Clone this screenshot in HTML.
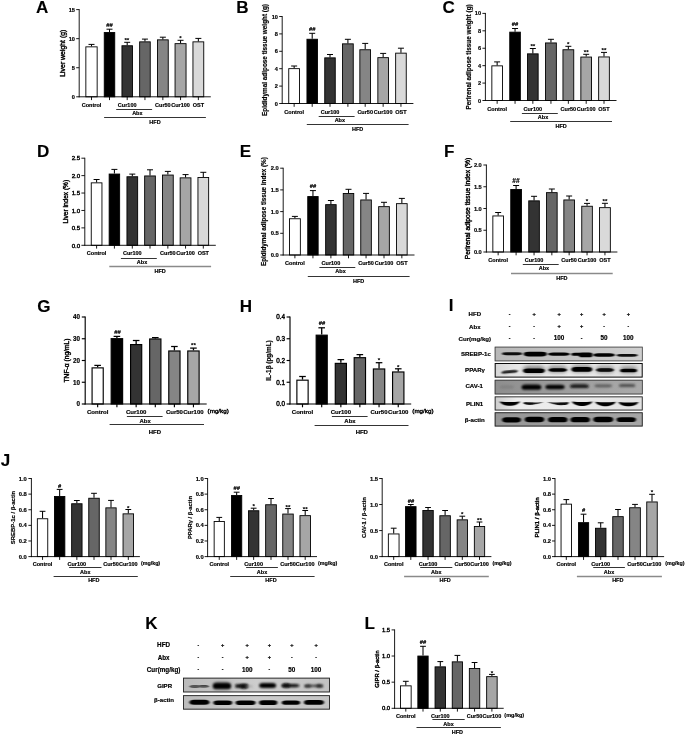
<!DOCTYPE html>
<html lang="en">
<head>
<meta charset="utf-8">
<title>Figure</title>
<style>
html,body{margin:0;padding:0;background:#fff;}
body{width:685px;height:735px;overflow:hidden;}
svg{display:block;}
svg text{font-family:"Liberation Sans",Arial,Helvetica,sans-serif;fill:#000;stroke:#000;stroke-width:0.18px;stroke-linejoin:round;}
</style>
</head>
<body>
<svg width="685" height="735" viewBox="0 0 685 735">
<rect width="685" height="735" fill="#fff"/>
<g>
<line x1="91.5" y1="46.4" x2="91.5" y2="44.4" stroke="#000" stroke-width="1.05"/>
<line x1="88.5" y1="44.4" x2="94.5" y2="44.4" stroke="#000" stroke-width="1"/>
<rect x="85.85" y="46.85" width="11.3" height="49.95" fill="#ffffff" stroke="#000" stroke-width="0.9"/>
<line x1="91.5" y1="96.8" x2="91.5" y2="100.1" stroke="#000" stroke-width="0.9"/>
<line x1="109.5" y1="32.1" x2="109.5" y2="29.2" stroke="#000" stroke-width="1.05"/>
<line x1="106.5" y1="29.2" x2="112.5" y2="29.2" stroke="#000" stroke-width="1"/>
<rect x="104.25" y="32.55" width="10.5" height="64.25" fill="#000000" stroke="#000" stroke-width="0.9"/>
<line x1="109.5" y1="96.8" x2="109.5" y2="100.1" stroke="#000" stroke-width="0.9"/>
<line x1="127.2" y1="45.3" x2="127.2" y2="42.3" stroke="#000" stroke-width="1.05"/>
<line x1="124.2" y1="42.3" x2="130.2" y2="42.3" stroke="#000" stroke-width="1"/>
<rect x="121.95" y="45.75" width="10.5" height="51.05" fill="#333333" stroke="#000" stroke-width="0.9"/>
<line x1="127.2" y1="96.8" x2="127.2" y2="100.1" stroke="#000" stroke-width="0.9"/>
<line x1="144.95" y1="41.4" x2="144.95" y2="39.1" stroke="#000" stroke-width="1.05"/>
<line x1="141.95" y1="39.1" x2="147.95" y2="39.1" stroke="#000" stroke-width="1"/>
<rect x="139.65" y="41.85" width="10.6" height="54.95" fill="#666666" stroke="#000" stroke-width="0.9"/>
<line x1="144.95" y1="96.8" x2="144.95" y2="100.1" stroke="#000" stroke-width="0.9"/>
<line x1="162.85" y1="39.4" x2="162.85" y2="37.2" stroke="#000" stroke-width="1.05"/>
<line x1="159.85" y1="37.2" x2="165.85" y2="37.2" stroke="#000" stroke-width="1"/>
<rect x="157.45" y="39.85" width="10.8" height="56.95" fill="#858585" stroke="#000" stroke-width="0.9"/>
<line x1="162.85" y1="96.8" x2="162.85" y2="100.1" stroke="#000" stroke-width="0.9"/>
<line x1="180.55" y1="43.2" x2="180.55" y2="40.3" stroke="#000" stroke-width="1.05"/>
<line x1="177.55" y1="40.3" x2="183.55" y2="40.3" stroke="#000" stroke-width="1"/>
<rect x="175.05" y="43.65" width="11" height="53.15" fill="#a6a6a6" stroke="#000" stroke-width="0.9"/>
<line x1="180.55" y1="96.8" x2="180.55" y2="100.1" stroke="#000" stroke-width="0.9"/>
<line x1="198.35" y1="41.4" x2="198.35" y2="38.4" stroke="#000" stroke-width="1.05"/>
<line x1="195.35" y1="38.4" x2="201.35" y2="38.4" stroke="#000" stroke-width="1"/>
<rect x="192.95" y="41.85" width="10.8" height="54.95" fill="#d9d9d9" stroke="#000" stroke-width="0.9"/>
<line x1="198.35" y1="96.8" x2="198.35" y2="100.1" stroke="#000" stroke-width="0.9"/>
<line x1="79.2" y1="9.15" x2="79.2" y2="97.25" stroke="#000" stroke-width="0.9"/>
<line x1="78.75" y1="96.8" x2="210.8" y2="96.8" stroke="#000" stroke-width="0.9"/>
<line x1="76.2" y1="9.6" x2="79.2" y2="9.6" stroke="#000" stroke-width="0.9"/>
<text x="74.9" y="11.62" font-size="5.6" font-weight="bold" text-anchor="end">15</text>
<line x1="76.2" y1="38.67" x2="79.2" y2="38.67" stroke="#000" stroke-width="0.9"/>
<text x="74.9" y="40.68" font-size="5.6" font-weight="bold" text-anchor="end">10</text>
<line x1="76.2" y1="67.73" x2="79.2" y2="67.73" stroke="#000" stroke-width="0.9"/>
<text x="74.9" y="69.75" font-size="5.6" font-weight="bold" text-anchor="end">5</text>
<line x1="76.2" y1="96.8" x2="79.2" y2="96.8" stroke="#000" stroke-width="0.9"/>
<text x="74.9" y="98.82" font-size="5.6" font-weight="bold" text-anchor="end">0</text>
<text transform="translate(64.57,53.2) rotate(-90)" font-size="6.9" font-weight="normal" text-anchor="middle" style="stroke-width:0.4px">Liver weight (g)</text>
<text x="109.5" y="27.43" font-size="5.8" font-weight="bold" text-anchor="middle">##</text>
<text x="126.8" y="42.42" font-size="6.2" font-weight="bold" text-anchor="middle">**</text>
<text x="180.5" y="40.12" font-size="6.2" font-weight="bold" text-anchor="middle">*</text>
<text x="91.5" y="107.1" font-size="5.5" font-weight="bold" text-anchor="middle">Control</text>
<text x="127.2" y="107.1" font-size="5.5" font-weight="bold" text-anchor="middle">Cur100</text>
<text x="162.85" y="107.1" font-size="5.5" font-weight="bold" text-anchor="middle">Cur50</text>
<text x="180.55" y="107.1" font-size="5.5" font-weight="bold" text-anchor="middle">Cur100</text>
<text x="198.35" y="107.1" font-size="5.5" font-weight="bold" text-anchor="middle">OST</text>
<line x1="116.2" y1="109.5" x2="152.1" y2="109.5" stroke="#000" stroke-width="0.8"/>
<text x="137.35" y="115.1" font-size="5.5" font-weight="bold" text-anchor="middle">Abx</text>
<line x1="104.1" y1="117.5" x2="205.9" y2="117.5" stroke="#000" stroke-width="0.8"/>
<text x="155" y="124.3" font-size="5.5" font-weight="bold" text-anchor="middle">HFD</text>
</g>
<g>
<line x1="294.15" y1="68.2" x2="294.15" y2="66" stroke="#000" stroke-width="1.05"/>
<line x1="291.15" y1="66" x2="297.15" y2="66" stroke="#000" stroke-width="1"/>
<rect x="288.75" y="68.65" width="10.8" height="34.85" fill="#ffffff" stroke="#000" stroke-width="0.9"/>
<line x1="294.15" y1="103.5" x2="294.15" y2="106.8" stroke="#000" stroke-width="0.9"/>
<line x1="312.2" y1="38.8" x2="312.2" y2="33.3" stroke="#000" stroke-width="1.05"/>
<line x1="309.2" y1="33.3" x2="315.2" y2="33.3" stroke="#000" stroke-width="1"/>
<rect x="306.95" y="39.25" width="10.5" height="64.25" fill="#000000" stroke="#000" stroke-width="0.9"/>
<line x1="312.2" y1="103.5" x2="312.2" y2="106.8" stroke="#000" stroke-width="0.9"/>
<line x1="330" y1="57.4" x2="330" y2="54.5" stroke="#000" stroke-width="1.05"/>
<line x1="327" y1="54.5" x2="333" y2="54.5" stroke="#000" stroke-width="1"/>
<rect x="324.75" y="57.85" width="10.5" height="45.65" fill="#333333" stroke="#000" stroke-width="0.9"/>
<line x1="330" y1="103.5" x2="330" y2="106.8" stroke="#000" stroke-width="0.9"/>
<line x1="347.9" y1="43.4" x2="347.9" y2="39.3" stroke="#000" stroke-width="1.05"/>
<line x1="344.9" y1="39.3" x2="350.9" y2="39.3" stroke="#000" stroke-width="1"/>
<rect x="342.55" y="43.85" width="10.7" height="59.65" fill="#666666" stroke="#000" stroke-width="0.9"/>
<line x1="347.9" y1="103.5" x2="347.9" y2="106.8" stroke="#000" stroke-width="0.9"/>
<line x1="365.2" y1="49.3" x2="365.2" y2="43.4" stroke="#000" stroke-width="1.05"/>
<line x1="362.2" y1="43.4" x2="368.2" y2="43.4" stroke="#000" stroke-width="1"/>
<rect x="359.85" y="49.75" width="10.7" height="53.75" fill="#858585" stroke="#000" stroke-width="0.9"/>
<line x1="365.2" y1="103.5" x2="365.2" y2="106.8" stroke="#000" stroke-width="0.9"/>
<line x1="383.15" y1="57.2" x2="383.15" y2="53.4" stroke="#000" stroke-width="1.05"/>
<line x1="380.15" y1="53.4" x2="386.15" y2="53.4" stroke="#000" stroke-width="1"/>
<rect x="377.85" y="57.65" width="10.6" height="45.85" fill="#a6a6a6" stroke="#000" stroke-width="0.9"/>
<line x1="383.15" y1="103.5" x2="383.15" y2="106.8" stroke="#000" stroke-width="0.9"/>
<line x1="400.95" y1="52.7" x2="400.95" y2="48.2" stroke="#000" stroke-width="1.05"/>
<line x1="397.95" y1="48.2" x2="403.95" y2="48.2" stroke="#000" stroke-width="1"/>
<rect x="395.65" y="53.15" width="10.6" height="50.35" fill="#d9d9d9" stroke="#000" stroke-width="0.9"/>
<line x1="400.95" y1="103.5" x2="400.95" y2="106.8" stroke="#000" stroke-width="0.9"/>
<line x1="282.2" y1="16.05" x2="282.2" y2="103.95" stroke="#000" stroke-width="0.9"/>
<line x1="281.75" y1="103.5" x2="413.4" y2="103.5" stroke="#000" stroke-width="0.9"/>
<line x1="279.2" y1="16.5" x2="282.2" y2="16.5" stroke="#000" stroke-width="0.9"/>
<text x="277.9" y="18.52" font-size="5.6" font-weight="bold" text-anchor="end">10</text>
<line x1="279.2" y1="33.9" x2="282.2" y2="33.9" stroke="#000" stroke-width="0.9"/>
<text x="277.9" y="35.92" font-size="5.6" font-weight="bold" text-anchor="end">8</text>
<line x1="279.2" y1="51.3" x2="282.2" y2="51.3" stroke="#000" stroke-width="0.9"/>
<text x="277.9" y="53.32" font-size="5.6" font-weight="bold" text-anchor="end">6</text>
<line x1="279.2" y1="68.7" x2="282.2" y2="68.7" stroke="#000" stroke-width="0.9"/>
<text x="277.9" y="70.72" font-size="5.6" font-weight="bold" text-anchor="end">4</text>
<line x1="279.2" y1="86.1" x2="282.2" y2="86.1" stroke="#000" stroke-width="0.9"/>
<text x="277.9" y="88.12" font-size="5.6" font-weight="bold" text-anchor="end">2</text>
<line x1="279.2" y1="103.5" x2="282.2" y2="103.5" stroke="#000" stroke-width="0.9"/>
<text x="277.9" y="105.52" font-size="5.6" font-weight="bold" text-anchor="end">0</text>
<text transform="translate(266.91,60) rotate(-90)" font-size="6.38" font-weight="bold" text-anchor="middle">Epididymal adipose tissue weight (g)</text>
<text x="312.2" y="30.73" font-size="5.8" font-weight="bold" text-anchor="middle">##</text>
<text x="294.15" y="113.8" font-size="5.5" font-weight="bold" text-anchor="middle">Control</text>
<text x="330" y="113.8" font-size="5.5" font-weight="bold" text-anchor="middle">Cur100</text>
<text x="365.2" y="113.8" font-size="5.5" font-weight="bold" text-anchor="middle">Cur50</text>
<text x="383.15" y="113.8" font-size="5.5" font-weight="bold" text-anchor="middle">Cur100</text>
<text x="400.95" y="113.8" font-size="5.5" font-weight="bold" text-anchor="middle">OST</text>
<line x1="318.7" y1="116.5" x2="354.6" y2="116.5" stroke="#000" stroke-width="0.8"/>
<text x="339.85" y="121.8" font-size="5.5" font-weight="bold" text-anchor="middle">Abx</text>
<line x1="306.8" y1="124.5" x2="408.6" y2="124.5" stroke="#000" stroke-width="0.8"/>
<text x="357.7" y="131" font-size="5.5" font-weight="bold" text-anchor="middle">HFD</text>
</g>
<g>
<line x1="497.15" y1="65.4" x2="497.15" y2="61.9" stroke="#000" stroke-width="1.05"/>
<line x1="494.15" y1="61.9" x2="500.15" y2="61.9" stroke="#000" stroke-width="1"/>
<rect x="491.85" y="65.85" width="10.6" height="34.65" fill="#ffffff" stroke="#000" stroke-width="0.9"/>
<line x1="497.15" y1="100.5" x2="497.15" y2="103.8" stroke="#000" stroke-width="0.9"/>
<line x1="515.05" y1="31.7" x2="515.05" y2="28.5" stroke="#000" stroke-width="1.05"/>
<line x1="512.05" y1="28.5" x2="518.05" y2="28.5" stroke="#000" stroke-width="1"/>
<rect x="509.75" y="32.15" width="10.6" height="68.35" fill="#000000" stroke="#000" stroke-width="0.9"/>
<line x1="515.05" y1="100.5" x2="515.05" y2="103.8" stroke="#000" stroke-width="0.9"/>
<line x1="532.85" y1="53.4" x2="532.85" y2="48.5" stroke="#000" stroke-width="1.05"/>
<line x1="529.85" y1="48.5" x2="535.85" y2="48.5" stroke="#000" stroke-width="1"/>
<rect x="527.55" y="53.85" width="10.6" height="46.65" fill="#333333" stroke="#000" stroke-width="0.9"/>
<line x1="532.85" y1="100.5" x2="532.85" y2="103.8" stroke="#000" stroke-width="0.9"/>
<line x1="550.95" y1="42.5" x2="550.95" y2="39.3" stroke="#000" stroke-width="1.05"/>
<line x1="547.95" y1="39.3" x2="553.95" y2="39.3" stroke="#000" stroke-width="1"/>
<rect x="545.55" y="42.95" width="10.8" height="57.55" fill="#666666" stroke="#000" stroke-width="0.9"/>
<line x1="550.95" y1="100.5" x2="550.95" y2="103.8" stroke="#000" stroke-width="0.9"/>
<line x1="568.35" y1="49.3" x2="568.35" y2="46.3" stroke="#000" stroke-width="1.05"/>
<line x1="565.35" y1="46.3" x2="571.35" y2="46.3" stroke="#000" stroke-width="1"/>
<rect x="562.95" y="49.75" width="10.8" height="50.75" fill="#858585" stroke="#000" stroke-width="0.9"/>
<line x1="568.35" y1="100.5" x2="568.35" y2="103.8" stroke="#000" stroke-width="0.9"/>
<line x1="586.2" y1="56.6" x2="586.2" y2="54.3" stroke="#000" stroke-width="1.05"/>
<line x1="583.2" y1="54.3" x2="589.2" y2="54.3" stroke="#000" stroke-width="1"/>
<rect x="580.85" y="57.05" width="10.7" height="43.45" fill="#a6a6a6" stroke="#000" stroke-width="0.9"/>
<line x1="586.2" y1="100.5" x2="586.2" y2="103.8" stroke="#000" stroke-width="0.9"/>
<line x1="604" y1="56.5" x2="604" y2="52.4" stroke="#000" stroke-width="1.05"/>
<line x1="601" y1="52.4" x2="607" y2="52.4" stroke="#000" stroke-width="1"/>
<rect x="598.65" y="56.95" width="10.7" height="43.55" fill="#d9d9d9" stroke="#000" stroke-width="0.9"/>
<line x1="604" y1="100.5" x2="604" y2="103.8" stroke="#000" stroke-width="0.9"/>
<line x1="485.4" y1="12.95" x2="485.4" y2="100.95" stroke="#000" stroke-width="0.9"/>
<line x1="484.95" y1="100.5" x2="616.5" y2="100.5" stroke="#000" stroke-width="0.9"/>
<line x1="482.4" y1="13.4" x2="485.4" y2="13.4" stroke="#000" stroke-width="0.9"/>
<text x="481.1" y="15.42" font-size="5.6" font-weight="bold" text-anchor="end">10</text>
<line x1="482.4" y1="30.82" x2="485.4" y2="30.82" stroke="#000" stroke-width="0.9"/>
<text x="481.1" y="32.84" font-size="5.6" font-weight="bold" text-anchor="end">8</text>
<line x1="482.4" y1="48.24" x2="485.4" y2="48.24" stroke="#000" stroke-width="0.9"/>
<text x="481.1" y="50.26" font-size="5.6" font-weight="bold" text-anchor="end">6</text>
<line x1="482.4" y1="65.66" x2="485.4" y2="65.66" stroke="#000" stroke-width="0.9"/>
<text x="481.1" y="67.68" font-size="5.6" font-weight="bold" text-anchor="end">4</text>
<line x1="482.4" y1="83.08" x2="485.4" y2="83.08" stroke="#000" stroke-width="0.9"/>
<text x="481.1" y="85.1" font-size="5.6" font-weight="bold" text-anchor="end">2</text>
<line x1="482.4" y1="100.5" x2="485.4" y2="100.5" stroke="#000" stroke-width="0.9"/>
<text x="481.1" y="102.52" font-size="5.6" font-weight="bold" text-anchor="end">0</text>
<text transform="translate(470.51,56.95) rotate(-90)" font-size="6.38" font-weight="bold" text-anchor="middle">Perirenal adipose tissue weight (g)</text>
<text x="515.1" y="25.73" font-size="5.8" font-weight="bold" text-anchor="middle">##</text>
<text x="532.8" y="48.32" font-size="6.2" font-weight="bold" text-anchor="middle">**</text>
<text x="568.3" y="45.52" font-size="6.2" font-weight="bold" text-anchor="middle">*</text>
<text x="586.2" y="54.12" font-size="6.2" font-weight="bold" text-anchor="middle">**</text>
<text x="604" y="52.42" font-size="6.2" font-weight="bold" text-anchor="middle">**</text>
<text x="497.15" y="110.8" font-size="5.5" font-weight="bold" text-anchor="middle">Control</text>
<text x="532.85" y="110.8" font-size="5.5" font-weight="bold" text-anchor="middle">Cur100</text>
<text x="568.35" y="110.8" font-size="5.5" font-weight="bold" text-anchor="middle">Cur50</text>
<text x="586.2" y="110.8" font-size="5.5" font-weight="bold" text-anchor="middle">Cur100</text>
<text x="604" y="110.8" font-size="5.5" font-weight="bold" text-anchor="middle">OST</text>
<line x1="521.9" y1="113.5" x2="557.8" y2="113.5" stroke="#000" stroke-width="0.8"/>
<text x="543.05" y="118.8" font-size="5.5" font-weight="bold" text-anchor="middle">Abx</text>
<line x1="510.2" y1="121.5" x2="612" y2="121.5" stroke="#000" stroke-width="0.8"/>
<text x="561.1" y="128" font-size="5.5" font-weight="bold" text-anchor="middle">HFD</text>
</g>
<g>
<line x1="96.6" y1="182.4" x2="96.6" y2="179.5" stroke="#000" stroke-width="1.05"/>
<line x1="93.6" y1="179.5" x2="99.6" y2="179.5" stroke="#000" stroke-width="1"/>
<rect x="91.25" y="182.85" width="10.7" height="62.45" fill="#ffffff" stroke="#000" stroke-width="0.9"/>
<line x1="96.6" y1="245.3" x2="96.6" y2="248.6" stroke="#000" stroke-width="0.9"/>
<line x1="114.4" y1="173.6" x2="114.4" y2="169.4" stroke="#000" stroke-width="1.05"/>
<line x1="111.4" y1="169.4" x2="117.4" y2="169.4" stroke="#000" stroke-width="1"/>
<rect x="109.15" y="174.05" width="10.5" height="71.25" fill="#000000" stroke="#000" stroke-width="0.9"/>
<line x1="114.4" y1="245.3" x2="114.4" y2="248.6" stroke="#000" stroke-width="0.9"/>
<line x1="132.3" y1="176.3" x2="132.3" y2="174.1" stroke="#000" stroke-width="1.05"/>
<line x1="129.3" y1="174.1" x2="135.3" y2="174.1" stroke="#000" stroke-width="1"/>
<rect x="126.95" y="176.75" width="10.7" height="68.55" fill="#333333" stroke="#000" stroke-width="0.9"/>
<line x1="132.3" y1="245.3" x2="132.3" y2="248.6" stroke="#000" stroke-width="0.9"/>
<line x1="150" y1="175.5" x2="150" y2="169.8" stroke="#000" stroke-width="1.05"/>
<line x1="147" y1="169.8" x2="153" y2="169.8" stroke="#000" stroke-width="1"/>
<rect x="144.65" y="175.95" width="10.7" height="69.35" fill="#666666" stroke="#000" stroke-width="0.9"/>
<line x1="150" y1="245.3" x2="150" y2="248.6" stroke="#000" stroke-width="0.9"/>
<line x1="167.85" y1="174.6" x2="167.85" y2="171.4" stroke="#000" stroke-width="1.05"/>
<line x1="164.85" y1="171.4" x2="170.85" y2="171.4" stroke="#000" stroke-width="1"/>
<rect x="162.45" y="175.05" width="10.8" height="70.25" fill="#858585" stroke="#000" stroke-width="0.9"/>
<line x1="167.85" y1="245.3" x2="167.85" y2="248.6" stroke="#000" stroke-width="0.9"/>
<line x1="185.55" y1="177.4" x2="185.55" y2="174.6" stroke="#000" stroke-width="1.05"/>
<line x1="182.55" y1="174.6" x2="188.55" y2="174.6" stroke="#000" stroke-width="1"/>
<rect x="180.15" y="177.85" width="10.8" height="67.45" fill="#a6a6a6" stroke="#000" stroke-width="0.9"/>
<line x1="185.55" y1="245.3" x2="185.55" y2="248.6" stroke="#000" stroke-width="0.9"/>
<line x1="203.3" y1="177" x2="203.3" y2="172.3" stroke="#000" stroke-width="1.05"/>
<line x1="200.3" y1="172.3" x2="206.3" y2="172.3" stroke="#000" stroke-width="1"/>
<rect x="197.95" y="177.45" width="10.7" height="67.85" fill="#d9d9d9" stroke="#000" stroke-width="0.9"/>
<line x1="203.3" y1="245.3" x2="203.3" y2="248.6" stroke="#000" stroke-width="0.9"/>
<line x1="84.8" y1="157.75" x2="84.8" y2="245.75" stroke="#000" stroke-width="0.9"/>
<line x1="84.35" y1="245.3" x2="215.8" y2="245.3" stroke="#000" stroke-width="0.9"/>
<line x1="81.4" y1="158.2" x2="84.8" y2="158.2" stroke="#000" stroke-width="0.9"/>
<text x="80.2" y="160.4" font-size="6.1" font-weight="normal" text-anchor="end" style="stroke-width:0.4px">2.5</text>
<line x1="81.4" y1="175.62" x2="84.8" y2="175.62" stroke="#000" stroke-width="0.9"/>
<text x="80.2" y="177.82" font-size="6.1" font-weight="normal" text-anchor="end" style="stroke-width:0.4px">2.0</text>
<line x1="81.4" y1="193.04" x2="84.8" y2="193.04" stroke="#000" stroke-width="0.9"/>
<text x="80.2" y="195.24" font-size="6.1" font-weight="normal" text-anchor="end" style="stroke-width:0.4px">1.5</text>
<line x1="81.4" y1="210.46" x2="84.8" y2="210.46" stroke="#000" stroke-width="0.9"/>
<text x="80.2" y="212.66" font-size="6.1" font-weight="normal" text-anchor="end" style="stroke-width:0.4px">1.0</text>
<line x1="81.4" y1="227.88" x2="84.8" y2="227.88" stroke="#000" stroke-width="0.9"/>
<text x="80.2" y="230.08" font-size="6.1" font-weight="normal" text-anchor="end" style="stroke-width:0.4px">0.5</text>
<line x1="81.4" y1="245.3" x2="84.8" y2="245.3" stroke="#000" stroke-width="0.9"/>
<text x="80.2" y="247.5" font-size="6.1" font-weight="normal" text-anchor="end" style="stroke-width:0.4px">0.0</text>
<text transform="translate(67.97,201.75) rotate(-90)" font-size="6.55" font-weight="normal" text-anchor="middle" style="stroke-width:0.4px">Liver index (%)</text>
<text x="96.6" y="255.2" font-size="5.5" font-weight="bold" text-anchor="middle">Control</text>
<text x="132.3" y="255.2" font-size="5.5" font-weight="bold" text-anchor="middle">Cur100</text>
<text x="167.85" y="255.2" font-size="5.5" font-weight="bold" text-anchor="middle">Cur50</text>
<text x="185.55" y="255.2" font-size="5.5" font-weight="bold" text-anchor="middle">Cur100</text>
<text x="203.3" y="255.2" font-size="5.5" font-weight="bold" text-anchor="middle">OST</text>
<line x1="120.9" y1="258.5" x2="156.8" y2="258.5" stroke="#000" stroke-width="0.8"/>
<text x="142.05" y="263.6" font-size="5.5" font-weight="bold" text-anchor="middle">Abx</text>
<line x1="109.3" y1="266.5" x2="211.1" y2="266.5" stroke="#8a8a8a" stroke-width="1.5"/>
<text x="160.2" y="272.8" font-size="5.5" font-weight="bold" text-anchor="middle">HFD</text>
</g>
<g>
<line x1="294.9" y1="218.3" x2="294.9" y2="216.4" stroke="#000" stroke-width="1.05"/>
<line x1="291.9" y1="216.4" x2="297.9" y2="216.4" stroke="#000" stroke-width="1"/>
<rect x="289.45" y="218.75" width="10.9" height="36.25" fill="#ffffff" stroke="#000" stroke-width="0.9"/>
<line x1="294.9" y1="255" x2="294.9" y2="258.3" stroke="#000" stroke-width="0.9"/>
<line x1="312.95" y1="196.1" x2="312.95" y2="190.6" stroke="#000" stroke-width="1.05"/>
<line x1="309.95" y1="190.6" x2="315.95" y2="190.6" stroke="#000" stroke-width="1"/>
<rect x="307.75" y="196.55" width="10.4" height="58.45" fill="#000000" stroke="#000" stroke-width="0.9"/>
<line x1="312.95" y1="255" x2="312.95" y2="258.3" stroke="#000" stroke-width="0.9"/>
<line x1="330.9" y1="204.2" x2="330.9" y2="200.5" stroke="#000" stroke-width="1.05"/>
<line x1="327.9" y1="200.5" x2="333.9" y2="200.5" stroke="#000" stroke-width="1"/>
<rect x="325.65" y="204.65" width="10.5" height="50.35" fill="#333333" stroke="#000" stroke-width="0.9"/>
<line x1="330.9" y1="255" x2="330.9" y2="258.3" stroke="#000" stroke-width="0.9"/>
<line x1="348.5" y1="193" x2="348.5" y2="189.3" stroke="#000" stroke-width="1.05"/>
<line x1="345.5" y1="189.3" x2="351.5" y2="189.3" stroke="#000" stroke-width="1"/>
<rect x="343.25" y="193.45" width="10.5" height="61.55" fill="#666666" stroke="#000" stroke-width="0.9"/>
<line x1="348.5" y1="255" x2="348.5" y2="258.3" stroke="#000" stroke-width="0.9"/>
<line x1="366.05" y1="199.5" x2="366.05" y2="193.4" stroke="#000" stroke-width="1.05"/>
<line x1="363.05" y1="193.4" x2="369.05" y2="193.4" stroke="#000" stroke-width="1"/>
<rect x="360.75" y="199.95" width="10.6" height="55.05" fill="#858585" stroke="#000" stroke-width="0.9"/>
<line x1="366.05" y1="255" x2="366.05" y2="258.3" stroke="#000" stroke-width="0.9"/>
<line x1="384" y1="206.2" x2="384" y2="202.3" stroke="#000" stroke-width="1.05"/>
<line x1="381" y1="202.3" x2="387" y2="202.3" stroke="#000" stroke-width="1"/>
<rect x="378.65" y="206.65" width="10.7" height="48.35" fill="#a6a6a6" stroke="#000" stroke-width="0.9"/>
<line x1="384" y1="255" x2="384" y2="258.3" stroke="#000" stroke-width="0.9"/>
<line x1="401.85" y1="203.2" x2="401.85" y2="198.4" stroke="#000" stroke-width="1.05"/>
<line x1="398.85" y1="198.4" x2="404.85" y2="198.4" stroke="#000" stroke-width="1"/>
<rect x="396.55" y="203.65" width="10.6" height="51.35" fill="#d9d9d9" stroke="#000" stroke-width="0.9"/>
<line x1="401.85" y1="255" x2="401.85" y2="258.3" stroke="#000" stroke-width="0.9"/>
<line x1="283.2" y1="167.75" x2="283.2" y2="255.45" stroke="#000" stroke-width="0.9"/>
<line x1="282.75" y1="255" x2="414.5" y2="255" stroke="#000" stroke-width="0.9"/>
<line x1="280.2" y1="168.2" x2="283.2" y2="168.2" stroke="#000" stroke-width="0.9"/>
<text x="278.8" y="170.29" font-size="5.8" font-weight="bold" text-anchor="end">2.0</text>
<line x1="280.2" y1="189.9" x2="283.2" y2="189.9" stroke="#000" stroke-width="0.9"/>
<text x="278.8" y="191.99" font-size="5.8" font-weight="bold" text-anchor="end">1.5</text>
<line x1="280.2" y1="211.6" x2="283.2" y2="211.6" stroke="#000" stroke-width="0.9"/>
<text x="278.8" y="213.69" font-size="5.8" font-weight="bold" text-anchor="end">1.0</text>
<line x1="280.2" y1="233.3" x2="283.2" y2="233.3" stroke="#000" stroke-width="0.9"/>
<text x="278.8" y="235.39" font-size="5.8" font-weight="bold" text-anchor="end">0.5</text>
<line x1="280.2" y1="255" x2="283.2" y2="255" stroke="#000" stroke-width="0.9"/>
<text x="278.8" y="257.09" font-size="5.8" font-weight="bold" text-anchor="end">0.0</text>
<text transform="translate(266.19,211.6) rotate(-90)" font-size="6.3" font-weight="bold" text-anchor="middle">Epididymal adipose tissue index (%)</text>
<text x="313.1" y="188.33" font-size="5.8" font-weight="bold" text-anchor="middle">##</text>
<text x="294.9" y="265.3" font-size="5.5" font-weight="bold" text-anchor="middle">Control</text>
<text x="330.9" y="265.3" font-size="5.5" font-weight="bold" text-anchor="middle">Cur100</text>
<text x="366.05" y="265.3" font-size="5.5" font-weight="bold" text-anchor="middle">Cur50</text>
<text x="384" y="265.3" font-size="5.5" font-weight="bold" text-anchor="middle">Cur100</text>
<text x="401.85" y="265.3" font-size="5.5" font-weight="bold" text-anchor="middle">OST</text>
<line x1="319.4" y1="267.5" x2="355.3" y2="267.5" stroke="#000" stroke-width="0.8"/>
<text x="340.55" y="273.3" font-size="5.5" font-weight="bold" text-anchor="middle">Abx</text>
<line x1="307.8" y1="276.5" x2="409.6" y2="276.5" stroke="#000" stroke-width="0.8"/>
<text x="358.7" y="282.5" font-size="5.5" font-weight="bold" text-anchor="middle">HFD</text>
</g>
<g>
<line x1="498.15" y1="215.5" x2="498.15" y2="212.5" stroke="#000" stroke-width="1.05"/>
<line x1="495.15" y1="212.5" x2="501.15" y2="212.5" stroke="#000" stroke-width="1"/>
<rect x="492.85" y="215.95" width="10.6" height="36.05" fill="#ffffff" stroke="#000" stroke-width="0.9"/>
<line x1="498.15" y1="252" x2="498.15" y2="255.3" stroke="#000" stroke-width="0.9"/>
<line x1="516.1" y1="189" x2="516.1" y2="185.5" stroke="#000" stroke-width="1.05"/>
<line x1="513.1" y1="185.5" x2="519.1" y2="185.5" stroke="#000" stroke-width="1"/>
<rect x="510.75" y="189.45" width="10.7" height="62.55" fill="#000000" stroke="#000" stroke-width="0.9"/>
<line x1="516.1" y1="252" x2="516.1" y2="255.3" stroke="#000" stroke-width="0.9"/>
<line x1="534.05" y1="200.4" x2="534.05" y2="196.3" stroke="#000" stroke-width="1.05"/>
<line x1="531.05" y1="196.3" x2="537.05" y2="196.3" stroke="#000" stroke-width="1"/>
<rect x="528.75" y="200.85" width="10.6" height="51.15" fill="#333333" stroke="#000" stroke-width="0.9"/>
<line x1="534.05" y1="252" x2="534.05" y2="255.3" stroke="#000" stroke-width="0.9"/>
<line x1="551.85" y1="192.2" x2="551.85" y2="189" stroke="#000" stroke-width="1.05"/>
<line x1="548.85" y1="189" x2="554.85" y2="189" stroke="#000" stroke-width="1"/>
<rect x="546.55" y="192.65" width="10.6" height="59.35" fill="#666666" stroke="#000" stroke-width="0.9"/>
<line x1="551.85" y1="252" x2="551.85" y2="255.3" stroke="#000" stroke-width="0.9"/>
<line x1="569.15" y1="199.5" x2="569.15" y2="196" stroke="#000" stroke-width="1.05"/>
<line x1="566.15" y1="196" x2="572.15" y2="196" stroke="#000" stroke-width="1"/>
<rect x="563.85" y="199.95" width="10.6" height="52.05" fill="#858585" stroke="#000" stroke-width="0.9"/>
<line x1="569.15" y1="252" x2="569.15" y2="255.3" stroke="#000" stroke-width="0.9"/>
<line x1="587.05" y1="205.8" x2="587.05" y2="203.4" stroke="#000" stroke-width="1.05"/>
<line x1="584.05" y1="203.4" x2="590.05" y2="203.4" stroke="#000" stroke-width="1"/>
<rect x="581.75" y="206.25" width="10.6" height="45.75" fill="#a6a6a6" stroke="#000" stroke-width="0.9"/>
<line x1="587.05" y1="252" x2="587.05" y2="255.3" stroke="#000" stroke-width="0.9"/>
<line x1="604.95" y1="207.2" x2="604.95" y2="203.3" stroke="#000" stroke-width="1.05"/>
<line x1="601.95" y1="203.3" x2="607.95" y2="203.3" stroke="#000" stroke-width="1"/>
<rect x="599.55" y="207.65" width="10.8" height="44.35" fill="#d9d9d9" stroke="#000" stroke-width="0.9"/>
<line x1="604.95" y1="252" x2="604.95" y2="255.3" stroke="#000" stroke-width="0.9"/>
<line x1="486.4" y1="164.55" x2="486.4" y2="252.45" stroke="#000" stroke-width="0.9"/>
<line x1="485.95" y1="252" x2="617.4" y2="252" stroke="#000" stroke-width="0.9"/>
<line x1="483.4" y1="165" x2="486.4" y2="165" stroke="#000" stroke-width="0.9"/>
<text x="481.8" y="167.05" font-size="5.7" font-weight="bold" text-anchor="end">2.0</text>
<line x1="483.4" y1="186.75" x2="486.4" y2="186.75" stroke="#000" stroke-width="0.9"/>
<text x="481.8" y="188.8" font-size="5.7" font-weight="bold" text-anchor="end">1.5</text>
<line x1="483.4" y1="208.5" x2="486.4" y2="208.5" stroke="#000" stroke-width="0.9"/>
<text x="481.8" y="210.55" font-size="5.7" font-weight="bold" text-anchor="end">1.0</text>
<line x1="483.4" y1="230.25" x2="486.4" y2="230.25" stroke="#000" stroke-width="0.9"/>
<text x="481.8" y="232.3" font-size="5.7" font-weight="bold" text-anchor="end">0.5</text>
<line x1="483.4" y1="252" x2="486.4" y2="252" stroke="#000" stroke-width="0.9"/>
<text x="481.8" y="254.05" font-size="5.7" font-weight="bold" text-anchor="end">0.0</text>
<text transform="translate(469.91,208.5) rotate(-90)" font-size="6.7" font-weight="normal" text-anchor="middle" style="stroke-width:0.4px">Perirenal adipose tissue index (%)</text>
<text x="516" y="183.11" font-size="6.6" font-weight="bold" text-anchor="middle">##</text>
<text x="587" y="203.12" font-size="6.2" font-weight="bold" text-anchor="middle">*</text>
<text x="605" y="203.02" font-size="6.2" font-weight="bold" text-anchor="middle">**</text>
<text x="498.15" y="262.3" font-size="5.5" font-weight="bold" text-anchor="middle">Control</text>
<text x="534.05" y="262.3" font-size="5.5" font-weight="bold" text-anchor="middle">Cur100</text>
<text x="569.15" y="262.3" font-size="5.5" font-weight="bold" text-anchor="middle">Cur50</text>
<text x="587.05" y="262.3" font-size="5.5" font-weight="bold" text-anchor="middle">Cur100</text>
<text x="604.95" y="262.3" font-size="5.5" font-weight="bold" text-anchor="middle">OST</text>
<line x1="522.8" y1="264.5" x2="558.7" y2="264.5" stroke="#000" stroke-width="0.8"/>
<text x="543.95" y="270.3" font-size="5.5" font-weight="bold" text-anchor="middle">Abx</text>
<line x1="511" y1="273.5" x2="612.7" y2="273.5" stroke="#8a8a8a" stroke-width="1.5"/>
<text x="561.85" y="279.5" font-size="5.5" font-weight="bold" text-anchor="middle">HFD</text>
</g>
<g>
<line x1="97.65" y1="367.3" x2="97.65" y2="365.4" stroke="#000" stroke-width="1.3"/>
<line x1="94.35" y1="365.4" x2="100.95" y2="365.4" stroke="#000" stroke-width="1.25"/>
<rect x="92.08" y="367.88" width="11.15" height="36.12" fill="#ffffff" stroke="#000" stroke-width="1.15"/>
<line x1="97.65" y1="404" x2="97.65" y2="407.3" stroke="#000" stroke-width="1.15"/>
<line x1="116.9" y1="338.1" x2="116.9" y2="336.4" stroke="#000" stroke-width="1.3"/>
<line x1="113.6" y1="336.4" x2="120.2" y2="336.4" stroke="#000" stroke-width="1.25"/>
<rect x="111.17" y="338.68" width="11.45" height="65.32" fill="#000000" stroke="#000" stroke-width="1.15"/>
<line x1="116.9" y1="404" x2="116.9" y2="407.3" stroke="#000" stroke-width="1.15"/>
<line x1="136.15" y1="344" x2="136.15" y2="340.5" stroke="#000" stroke-width="1.3"/>
<line x1="132.85" y1="340.5" x2="139.45" y2="340.5" stroke="#000" stroke-width="1.25"/>
<rect x="130.57" y="344.57" width="11.15" height="59.42" fill="#333333" stroke="#000" stroke-width="1.15"/>
<line x1="136.15" y1="404" x2="136.15" y2="407.3" stroke="#000" stroke-width="1.15"/>
<line x1="155.3" y1="338.4" x2="155.3" y2="337.6" stroke="#000" stroke-width="1.3"/>
<line x1="152" y1="337.6" x2="158.6" y2="337.6" stroke="#000" stroke-width="1.25"/>
<rect x="149.67" y="338.97" width="11.25" height="65.03" fill="#666666" stroke="#000" stroke-width="1.15"/>
<line x1="155.3" y1="404" x2="155.3" y2="407.3" stroke="#000" stroke-width="1.15"/>
<line x1="174.4" y1="350.4" x2="174.4" y2="346.5" stroke="#000" stroke-width="1.3"/>
<line x1="171.1" y1="346.5" x2="177.7" y2="346.5" stroke="#000" stroke-width="1.25"/>
<rect x="168.77" y="350.97" width="11.25" height="53.03" fill="#858585" stroke="#000" stroke-width="1.15"/>
<line x1="174.4" y1="404" x2="174.4" y2="407.3" stroke="#000" stroke-width="1.15"/>
<line x1="193.45" y1="350.4" x2="193.45" y2="348.1" stroke="#000" stroke-width="1.3"/>
<line x1="190.15" y1="348.1" x2="196.75" y2="348.1" stroke="#000" stroke-width="1.25"/>
<rect x="187.77" y="350.97" width="11.35" height="53.03" fill="#a6a6a6" stroke="#000" stroke-width="1.15"/>
<line x1="193.45" y1="404" x2="193.45" y2="407.3" stroke="#000" stroke-width="1.15"/>
<line x1="85.2" y1="316.43" x2="85.2" y2="404.57" stroke="#000" stroke-width="1.15"/>
<line x1="84.62" y1="404" x2="206.7" y2="404" stroke="#000" stroke-width="1.15"/>
<line x1="81.8" y1="317" x2="85.2" y2="317" stroke="#000" stroke-width="1.15"/>
<text x="80" y="319.27" font-size="6.3" font-weight="bold" text-anchor="end">40</text>
<line x1="81.8" y1="338.75" x2="85.2" y2="338.75" stroke="#000" stroke-width="1.15"/>
<text x="80" y="341.02" font-size="6.3" font-weight="bold" text-anchor="end">30</text>
<line x1="81.8" y1="360.5" x2="85.2" y2="360.5" stroke="#000" stroke-width="1.15"/>
<text x="80" y="362.77" font-size="6.3" font-weight="bold" text-anchor="end">20</text>
<line x1="81.8" y1="382.25" x2="85.2" y2="382.25" stroke="#000" stroke-width="1.15"/>
<text x="80" y="384.52" font-size="6.3" font-weight="bold" text-anchor="end">10</text>
<line x1="81.8" y1="404" x2="85.2" y2="404" stroke="#000" stroke-width="1.15"/>
<text x="80" y="406.27" font-size="6.3" font-weight="bold" text-anchor="end">0</text>
<text transform="translate(69.41,360.5) rotate(-90)" font-size="6.7" font-weight="normal" text-anchor="middle" style="stroke-width:0.4px">TNF-α (ng/mL)</text>
<text x="117.5" y="333.93" font-size="5.8" font-weight="bold" text-anchor="middle">##</text>
<text x="193.4" y="347.32" font-size="6.2" font-weight="bold" text-anchor="middle">**</text>
<text x="97.65" y="413.8" font-size="6" font-weight="bold" text-anchor="middle">Control</text>
<text x="136.15" y="413.8" font-size="6" font-weight="bold" text-anchor="middle">Cur100</text>
<text x="174.4" y="413.8" font-size="6" font-weight="bold" text-anchor="middle">Cur50</text>
<text x="193.45" y="413.8" font-size="6" font-weight="bold" text-anchor="middle">Cur100</text>
<text x="207.6" y="413.4" font-size="6.25" font-weight="normal" text-anchor="start" style="stroke-width:0.4px">(mg/kg)</text>
<line x1="126.9" y1="416.5" x2="162.6" y2="416.5" stroke="#000" stroke-width="0.8"/>
<text x="145.1" y="423.2" font-size="6" font-weight="bold" text-anchor="middle">Abx</text>
<line x1="109.6" y1="424.5" x2="204" y2="424.5" stroke="#000" stroke-width="0.8"/>
<text x="154.9" y="434.2" font-size="6" font-weight="bold" text-anchor="middle">HFD</text>
</g>
<g>
<line x1="302.5" y1="379.6" x2="302.5" y2="376.5" stroke="#000" stroke-width="1.3"/>
<line x1="299.2" y1="376.5" x2="305.8" y2="376.5" stroke="#000" stroke-width="1.25"/>
<rect x="296.88" y="380.18" width="11.25" height="23.82" fill="#ffffff" stroke="#000" stroke-width="1.15"/>
<line x1="302.5" y1="404" x2="302.5" y2="407.3" stroke="#000" stroke-width="1.15"/>
<line x1="321.7" y1="334.6" x2="321.7" y2="327.8" stroke="#000" stroke-width="1.3"/>
<line x1="318.4" y1="327.8" x2="325" y2="327.8" stroke="#000" stroke-width="1.25"/>
<rect x="316.18" y="335.18" width="11.05" height="68.82" fill="#000000" stroke="#000" stroke-width="1.15"/>
<line x1="321.7" y1="404" x2="321.7" y2="407.3" stroke="#000" stroke-width="1.15"/>
<line x1="340.85" y1="362.8" x2="340.85" y2="359.6" stroke="#000" stroke-width="1.3"/>
<line x1="337.55" y1="359.6" x2="344.15" y2="359.6" stroke="#000" stroke-width="1.25"/>
<rect x="335.27" y="363.38" width="11.15" height="40.62" fill="#333333" stroke="#000" stroke-width="1.15"/>
<line x1="340.85" y1="404" x2="340.85" y2="407.3" stroke="#000" stroke-width="1.15"/>
<line x1="359.85" y1="357.1" x2="359.85" y2="354.6" stroke="#000" stroke-width="1.3"/>
<line x1="356.55" y1="354.6" x2="363.15" y2="354.6" stroke="#000" stroke-width="1.25"/>
<rect x="354.18" y="357.68" width="11.35" height="46.32" fill="#666666" stroke="#000" stroke-width="1.15"/>
<line x1="359.85" y1="404" x2="359.85" y2="407.3" stroke="#000" stroke-width="1.15"/>
<line x1="379.05" y1="368.4" x2="379.05" y2="362.7" stroke="#000" stroke-width="1.3"/>
<line x1="375.75" y1="362.7" x2="382.35" y2="362.7" stroke="#000" stroke-width="1.25"/>
<rect x="373.38" y="368.97" width="11.35" height="35.03" fill="#858585" stroke="#000" stroke-width="1.15"/>
<line x1="379.05" y1="404" x2="379.05" y2="407.3" stroke="#000" stroke-width="1.15"/>
<line x1="398.25" y1="371.4" x2="398.25" y2="368.8" stroke="#000" stroke-width="1.3"/>
<line x1="394.95" y1="368.8" x2="401.55" y2="368.8" stroke="#000" stroke-width="1.25"/>
<rect x="392.57" y="371.97" width="11.35" height="32.03" fill="#a6a6a6" stroke="#000" stroke-width="1.15"/>
<line x1="398.25" y1="404" x2="398.25" y2="407.3" stroke="#000" stroke-width="1.15"/>
<line x1="290" y1="316.43" x2="290" y2="404.57" stroke="#000" stroke-width="1.15"/>
<line x1="289.43" y1="404" x2="411.2" y2="404" stroke="#000" stroke-width="1.15"/>
<line x1="286.6" y1="317" x2="290" y2="317" stroke="#000" stroke-width="1.15"/>
<text x="284.9" y="319.27" font-size="6.3" font-weight="normal" text-anchor="end" style="stroke-width:0.4px">0.4</text>
<line x1="286.6" y1="338.75" x2="290" y2="338.75" stroke="#000" stroke-width="1.15"/>
<text x="284.9" y="341.02" font-size="6.3" font-weight="normal" text-anchor="end" style="stroke-width:0.4px">0.3</text>
<line x1="286.6" y1="360.5" x2="290" y2="360.5" stroke="#000" stroke-width="1.15"/>
<text x="284.9" y="362.77" font-size="6.3" font-weight="normal" text-anchor="end" style="stroke-width:0.4px">0.2</text>
<line x1="286.6" y1="382.25" x2="290" y2="382.25" stroke="#000" stroke-width="1.15"/>
<text x="284.9" y="384.52" font-size="6.3" font-weight="normal" text-anchor="end" style="stroke-width:0.4px">0.1</text>
<line x1="286.6" y1="404" x2="290" y2="404" stroke="#000" stroke-width="1.15"/>
<text x="284.9" y="406.27" font-size="6.3" font-weight="normal" text-anchor="end" style="stroke-width:0.4px">0.0</text>
<text transform="translate(271.32,360.5) rotate(-90)" font-size="6.4" font-weight="bold" text-anchor="middle">IL-1β (pg/mL)</text>
<text x="321.9" y="325.43" font-size="5.8" font-weight="bold" text-anchor="middle">##</text>
<text x="379" y="361.82" font-size="6.2" font-weight="bold" text-anchor="middle">*</text>
<text x="398.2" y="368.92" font-size="6.2" font-weight="bold" text-anchor="middle">*</text>
<text x="302.5" y="413.8" font-size="6" font-weight="bold" text-anchor="middle">Control</text>
<text x="340.85" y="413.8" font-size="6" font-weight="bold" text-anchor="middle">Cur100</text>
<text x="379.05" y="413.8" font-size="6" font-weight="bold" text-anchor="middle">Cur50</text>
<text x="398.25" y="413.8" font-size="6" font-weight="bold" text-anchor="middle">Cur100</text>
<text x="412.3" y="413.4" font-size="6.25" font-weight="normal" text-anchor="start" style="stroke-width:0.4px">(mg/kg)</text>
<line x1="331.9" y1="416.5" x2="367.6" y2="416.5" stroke="#000" stroke-width="0.8"/>
<text x="350" y="423.2" font-size="6" font-weight="bold" text-anchor="middle">Abx</text>
<line x1="314.6" y1="425.5" x2="408.5" y2="425.5" stroke="#000" stroke-width="0.8"/>
<text x="361.8" y="434.2" font-size="6" font-weight="bold" text-anchor="middle">HFD</text>
</g>
<g>
<line x1="42.55" y1="518.3" x2="42.55" y2="511.3" stroke="#000" stroke-width="1.05"/>
<line x1="39.65" y1="511.3" x2="45.45" y2="511.3" stroke="#000" stroke-width="1"/>
<rect x="37.35" y="518.75" width="10.4" height="37.85" fill="#ffffff" stroke="#000" stroke-width="0.9"/>
<line x1="42.55" y1="556.6" x2="42.55" y2="559.9" stroke="#000" stroke-width="0.9"/>
<line x1="59.65" y1="496" x2="59.65" y2="489.4" stroke="#000" stroke-width="1.05"/>
<line x1="56.75" y1="489.4" x2="62.55" y2="489.4" stroke="#000" stroke-width="1"/>
<rect x="54.45" y="496.45" width="10.4" height="60.15" fill="#000000" stroke="#000" stroke-width="0.9"/>
<line x1="59.65" y1="556.6" x2="59.65" y2="559.9" stroke="#000" stroke-width="0.9"/>
<line x1="76.85" y1="503.3" x2="76.85" y2="500.5" stroke="#000" stroke-width="1.05"/>
<line x1="73.95" y1="500.5" x2="79.75" y2="500.5" stroke="#000" stroke-width="1"/>
<rect x="71.65" y="503.75" width="10.4" height="52.85" fill="#333333" stroke="#000" stroke-width="0.9"/>
<line x1="76.85" y1="556.6" x2="76.85" y2="559.9" stroke="#000" stroke-width="0.9"/>
<line x1="94" y1="497.8" x2="94" y2="493.3" stroke="#000" stroke-width="1.05"/>
<line x1="91.1" y1="493.3" x2="96.9" y2="493.3" stroke="#000" stroke-width="1"/>
<rect x="88.75" y="498.25" width="10.5" height="58.35" fill="#666666" stroke="#000" stroke-width="0.9"/>
<line x1="94" y1="556.6" x2="94" y2="559.9" stroke="#000" stroke-width="0.9"/>
<line x1="111" y1="507.4" x2="111" y2="500.4" stroke="#000" stroke-width="1.05"/>
<line x1="108.1" y1="500.4" x2="113.9" y2="500.4" stroke="#000" stroke-width="1"/>
<rect x="105.85" y="507.85" width="10.3" height="48.75" fill="#858585" stroke="#000" stroke-width="0.9"/>
<line x1="111" y1="556.6" x2="111" y2="559.9" stroke="#000" stroke-width="0.9"/>
<line x1="128.3" y1="513.4" x2="128.3" y2="509.5" stroke="#000" stroke-width="1.05"/>
<line x1="125.4" y1="509.5" x2="131.2" y2="509.5" stroke="#000" stroke-width="1"/>
<rect x="123.05" y="513.85" width="10.5" height="42.75" fill="#a6a6a6" stroke="#000" stroke-width="0.9"/>
<line x1="128.3" y1="556.6" x2="128.3" y2="559.9" stroke="#000" stroke-width="0.9"/>
<line x1="31.4" y1="478.05" x2="31.4" y2="557.05" stroke="#000" stroke-width="0.9"/>
<line x1="30.95" y1="556.6" x2="139.9" y2="556.6" stroke="#000" stroke-width="0.9"/>
<line x1="28.4" y1="478.5" x2="31.4" y2="478.5" stroke="#000" stroke-width="0.9"/>
<text x="26.8" y="480.59" font-size="5.8" font-weight="bold" text-anchor="end">1.0</text>
<line x1="28.4" y1="494.12" x2="31.4" y2="494.12" stroke="#000" stroke-width="0.9"/>
<text x="26.8" y="496.21" font-size="5.8" font-weight="bold" text-anchor="end">0.8</text>
<line x1="28.4" y1="509.74" x2="31.4" y2="509.74" stroke="#000" stroke-width="0.9"/>
<text x="26.8" y="511.83" font-size="5.8" font-weight="bold" text-anchor="end">0.6</text>
<line x1="28.4" y1="525.36" x2="31.4" y2="525.36" stroke="#000" stroke-width="0.9"/>
<text x="26.8" y="527.45" font-size="5.8" font-weight="bold" text-anchor="end">0.4</text>
<line x1="28.4" y1="540.98" x2="31.4" y2="540.98" stroke="#000" stroke-width="0.9"/>
<text x="26.8" y="543.07" font-size="5.8" font-weight="bold" text-anchor="end">0.2</text>
<line x1="28.4" y1="556.6" x2="31.4" y2="556.6" stroke="#000" stroke-width="0.9"/>
<text x="26.8" y="558.69" font-size="5.8" font-weight="bold" text-anchor="end">0.0</text>
<text transform="translate(14.69,517.55) rotate(-90)" font-size="5.95" font-weight="bold" text-anchor="middle">SREBP-1c / β-actin</text>
<text x="59.6" y="487.53" font-size="5.8" font-weight="bold" text-anchor="middle">#</text>
<text x="128.3" y="509.52" font-size="6.2" font-weight="bold" text-anchor="middle">*</text>
<text x="42.55" y="565.6" font-size="5.5" font-weight="bold" text-anchor="middle">Control</text>
<text x="76.85" y="565.6" font-size="5.5" font-weight="bold" text-anchor="middle">Cur100</text>
<text x="111" y="565.6" font-size="5.5" font-weight="bold" text-anchor="middle">Cur50</text>
<text x="128.3" y="565.6" font-size="5.5" font-weight="bold" text-anchor="middle">Cur100</text>
<text x="141" y="564.8" font-size="5.3" font-weight="bold" text-anchor="start">(mg/kg)</text>
<line x1="69.1" y1="567.5" x2="101.5" y2="567.5" stroke="#000" stroke-width="0.8"/>
<text x="85.3" y="573.9" font-size="5.5" font-weight="bold" text-anchor="middle">Abx</text>
<line x1="53.6" y1="576.5" x2="137.8" y2="576.5" stroke="#000" stroke-width="0.8"/>
<text x="93.8" y="582.2" font-size="5.5" font-weight="bold" text-anchor="middle">HFD</text>
</g>
<g>
<line x1="219.25" y1="521.1" x2="219.25" y2="517.4" stroke="#000" stroke-width="1.05"/>
<line x1="216.35" y1="517.4" x2="222.15" y2="517.4" stroke="#000" stroke-width="1"/>
<rect x="214.15" y="521.55" width="10.2" height="35.05" fill="#ffffff" stroke="#000" stroke-width="0.9"/>
<line x1="219.25" y1="556.6" x2="219.25" y2="559.9" stroke="#000" stroke-width="0.9"/>
<line x1="236.65" y1="495.1" x2="236.65" y2="492.2" stroke="#000" stroke-width="1.05"/>
<line x1="233.75" y1="492.2" x2="239.55" y2="492.2" stroke="#000" stroke-width="1"/>
<rect x="231.55" y="495.55" width="10.2" height="61.05" fill="#000000" stroke="#000" stroke-width="0.9"/>
<line x1="236.65" y1="556.6" x2="236.65" y2="559.9" stroke="#000" stroke-width="0.9"/>
<line x1="253.65" y1="510.3" x2="253.65" y2="508.2" stroke="#000" stroke-width="1.05"/>
<line x1="250.75" y1="508.2" x2="256.55" y2="508.2" stroke="#000" stroke-width="1"/>
<rect x="248.45" y="510.75" width="10.4" height="45.85" fill="#333333" stroke="#000" stroke-width="0.9"/>
<line x1="253.65" y1="556.6" x2="253.65" y2="559.9" stroke="#000" stroke-width="0.9"/>
<line x1="271" y1="504.3" x2="271" y2="498.5" stroke="#000" stroke-width="1.05"/>
<line x1="268.1" y1="498.5" x2="273.9" y2="498.5" stroke="#000" stroke-width="1"/>
<rect x="265.65" y="504.75" width="10.7" height="51.85" fill="#666666" stroke="#000" stroke-width="0.9"/>
<line x1="271" y1="556.6" x2="271" y2="559.9" stroke="#000" stroke-width="0.9"/>
<line x1="288" y1="513.6" x2="288" y2="508.6" stroke="#000" stroke-width="1.05"/>
<line x1="285.1" y1="508.6" x2="290.9" y2="508.6" stroke="#000" stroke-width="1"/>
<rect x="282.75" y="514.05" width="10.5" height="42.55" fill="#858585" stroke="#000" stroke-width="0.9"/>
<line x1="288" y1="556.6" x2="288" y2="559.9" stroke="#000" stroke-width="0.9"/>
<line x1="305.2" y1="515.2" x2="305.2" y2="510.5" stroke="#000" stroke-width="1.05"/>
<line x1="302.3" y1="510.5" x2="308.1" y2="510.5" stroke="#000" stroke-width="1"/>
<rect x="299.95" y="515.65" width="10.5" height="40.95" fill="#a6a6a6" stroke="#000" stroke-width="0.9"/>
<line x1="305.2" y1="556.6" x2="305.2" y2="559.9" stroke="#000" stroke-width="0.9"/>
<line x1="207.6" y1="478.05" x2="207.6" y2="557.05" stroke="#000" stroke-width="0.9"/>
<line x1="207.15" y1="556.6" x2="317" y2="556.6" stroke="#000" stroke-width="0.9"/>
<line x1="204.6" y1="478.5" x2="207.6" y2="478.5" stroke="#000" stroke-width="0.9"/>
<text x="203.7" y="480.59" font-size="5.8" font-weight="bold" text-anchor="end">1.0</text>
<line x1="204.6" y1="494.12" x2="207.6" y2="494.12" stroke="#000" stroke-width="0.9"/>
<text x="203.7" y="496.21" font-size="5.8" font-weight="bold" text-anchor="end">0.8</text>
<line x1="204.6" y1="509.74" x2="207.6" y2="509.74" stroke="#000" stroke-width="0.9"/>
<text x="203.7" y="511.83" font-size="5.8" font-weight="bold" text-anchor="end">0.6</text>
<line x1="204.6" y1="525.36" x2="207.6" y2="525.36" stroke="#000" stroke-width="0.9"/>
<text x="203.7" y="527.45" font-size="5.8" font-weight="bold" text-anchor="end">0.4</text>
<line x1="204.6" y1="540.98" x2="207.6" y2="540.98" stroke="#000" stroke-width="0.9"/>
<text x="203.7" y="543.07" font-size="5.8" font-weight="bold" text-anchor="end">0.2</text>
<line x1="204.6" y1="556.6" x2="207.6" y2="556.6" stroke="#000" stroke-width="0.9"/>
<text x="203.7" y="558.69" font-size="5.8" font-weight="bold" text-anchor="end">0.0</text>
<text transform="translate(191.66,517.55) rotate(-90)" font-size="5.85" font-weight="bold" text-anchor="middle">PPARγ / β-actin</text>
<text x="236.8" y="489.83" font-size="5.8" font-weight="bold" text-anchor="middle">##</text>
<text x="253.6" y="507.52" font-size="6.2" font-weight="bold" text-anchor="middle">*</text>
<text x="288" y="508.92" font-size="6.2" font-weight="bold" text-anchor="middle">**</text>
<text x="305.2" y="510.62" font-size="6.2" font-weight="bold" text-anchor="middle">**</text>
<text x="219.25" y="565.6" font-size="5.5" font-weight="bold" text-anchor="middle">Control</text>
<text x="253.65" y="565.6" font-size="5.5" font-weight="bold" text-anchor="middle">Cur100</text>
<text x="288" y="565.6" font-size="5.5" font-weight="bold" text-anchor="middle">Cur50</text>
<text x="305.2" y="565.6" font-size="5.5" font-weight="bold" text-anchor="middle">Cur100</text>
<text x="318.1" y="564.8" font-size="5.3" font-weight="bold" text-anchor="start">(mg/kg)</text>
<line x1="246.1" y1="567.5" x2="277.9" y2="567.5" stroke="#000" stroke-width="0.8"/>
<text x="262" y="573.9" font-size="5.5" font-weight="bold" text-anchor="middle">Abx</text>
<line x1="230.2" y1="576.5" x2="314.6" y2="576.5" stroke="#000" stroke-width="0.8"/>
<text x="271" y="582.2" font-size="5.5" font-weight="bold" text-anchor="middle">HFD</text>
</g>
<g>
<line x1="393.7" y1="533.5" x2="393.7" y2="528.2" stroke="#000" stroke-width="1.05"/>
<line x1="390.8" y1="528.2" x2="396.6" y2="528.2" stroke="#000" stroke-width="1"/>
<rect x="388.35" y="533.95" width="10.7" height="22.65" fill="#ffffff" stroke="#000" stroke-width="0.9"/>
<line x1="393.7" y1="556.6" x2="393.7" y2="559.9" stroke="#000" stroke-width="0.9"/>
<line x1="410.8" y1="506.2" x2="410.8" y2="504.5" stroke="#000" stroke-width="1.05"/>
<line x1="407.9" y1="504.5" x2="413.7" y2="504.5" stroke="#000" stroke-width="1"/>
<rect x="405.55" y="506.65" width="10.5" height="49.95" fill="#000000" stroke="#000" stroke-width="0.9"/>
<line x1="410.8" y1="556.6" x2="410.8" y2="559.9" stroke="#000" stroke-width="0.9"/>
<line x1="428.05" y1="510.1" x2="428.05" y2="507.5" stroke="#000" stroke-width="1.05"/>
<line x1="425.15" y1="507.5" x2="430.95" y2="507.5" stroke="#000" stroke-width="1"/>
<rect x="422.85" y="510.55" width="10.4" height="46.05" fill="#333333" stroke="#000" stroke-width="0.9"/>
<line x1="428.05" y1="556.6" x2="428.05" y2="559.9" stroke="#000" stroke-width="0.9"/>
<line x1="445.1" y1="515.3" x2="445.1" y2="510.5" stroke="#000" stroke-width="1.05"/>
<line x1="442.2" y1="510.5" x2="448" y2="510.5" stroke="#000" stroke-width="1"/>
<rect x="439.85" y="515.75" width="10.5" height="40.85" fill="#666666" stroke="#000" stroke-width="0.9"/>
<line x1="445.1" y1="556.6" x2="445.1" y2="559.9" stroke="#000" stroke-width="0.9"/>
<line x1="462.3" y1="519.4" x2="462.3" y2="516.2" stroke="#000" stroke-width="1.05"/>
<line x1="459.4" y1="516.2" x2="465.2" y2="516.2" stroke="#000" stroke-width="1"/>
<rect x="457.15" y="519.85" width="10.3" height="36.75" fill="#858585" stroke="#000" stroke-width="0.9"/>
<line x1="462.3" y1="556.6" x2="462.3" y2="559.9" stroke="#000" stroke-width="0.9"/>
<line x1="479.5" y1="526" x2="479.5" y2="522" stroke="#000" stroke-width="1.05"/>
<line x1="476.6" y1="522" x2="482.4" y2="522" stroke="#000" stroke-width="1"/>
<rect x="474.35" y="526.45" width="10.3" height="30.15" fill="#a6a6a6" stroke="#000" stroke-width="0.9"/>
<line x1="479.5" y1="556.6" x2="479.5" y2="559.9" stroke="#000" stroke-width="0.9"/>
<line x1="382.2" y1="478.05" x2="382.2" y2="557.05" stroke="#000" stroke-width="0.9"/>
<line x1="381.75" y1="556.6" x2="491.4" y2="556.6" stroke="#000" stroke-width="0.9"/>
<line x1="379.2" y1="478.5" x2="382.2" y2="478.5" stroke="#000" stroke-width="0.9"/>
<text x="378.1" y="480.59" font-size="5.8" font-weight="bold" text-anchor="end">1.5</text>
<line x1="379.2" y1="504.53" x2="382.2" y2="504.53" stroke="#000" stroke-width="0.9"/>
<text x="378.1" y="506.62" font-size="5.8" font-weight="bold" text-anchor="end">1.0</text>
<line x1="379.2" y1="530.57" x2="382.2" y2="530.57" stroke="#000" stroke-width="0.9"/>
<text x="378.1" y="532.65" font-size="5.8" font-weight="bold" text-anchor="end">0.5</text>
<line x1="379.2" y1="556.6" x2="382.2" y2="556.6" stroke="#000" stroke-width="0.9"/>
<text x="378.1" y="558.69" font-size="5.8" font-weight="bold" text-anchor="end">0.0</text>
<text transform="translate(366.06,517.55) rotate(-90)" font-size="5.85" font-weight="bold" text-anchor="middle">CAV-1 / β-actin</text>
<text x="411" y="502.63" font-size="5.8" font-weight="bold" text-anchor="middle">##</text>
<text x="462.3" y="516.22" font-size="6.2" font-weight="bold" text-anchor="middle">*</text>
<text x="479.5" y="522.02" font-size="6.2" font-weight="bold" text-anchor="middle">**</text>
<text x="393.7" y="565.6" font-size="5.5" font-weight="bold" text-anchor="middle">Control</text>
<text x="428.05" y="565.6" font-size="5.5" font-weight="bold" text-anchor="middle">Cur100</text>
<text x="462.3" y="565.6" font-size="5.5" font-weight="bold" text-anchor="middle">Cur50</text>
<text x="479.5" y="565.6" font-size="5.5" font-weight="bold" text-anchor="middle">Cur100</text>
<text x="492.4" y="564.8" font-size="5.3" font-weight="bold" text-anchor="start">(mg/kg)</text>
<line x1="420.2" y1="567.5" x2="452.3" y2="567.5" stroke="#000" stroke-width="0.8"/>
<text x="436.25" y="573.9" font-size="5.5" font-weight="bold" text-anchor="middle">Abx</text>
<line x1="404.1" y1="576.5" x2="488.8" y2="576.5" stroke="#8a8a8a" stroke-width="1.5"/>
<text x="445.1" y="582.2" font-size="5.5" font-weight="bold" text-anchor="middle">HFD</text>
</g>
<g>
<line x1="566.3" y1="503.7" x2="566.3" y2="499.6" stroke="#000" stroke-width="1.05"/>
<line x1="563.4" y1="499.6" x2="569.2" y2="499.6" stroke="#000" stroke-width="1"/>
<rect x="561.05" y="504.15" width="10.5" height="52.45" fill="#ffffff" stroke="#000" stroke-width="0.9"/>
<line x1="566.3" y1="556.6" x2="566.3" y2="559.9" stroke="#000" stroke-width="0.9"/>
<line x1="583.55" y1="522.2" x2="583.55" y2="514.2" stroke="#000" stroke-width="1.05"/>
<line x1="580.65" y1="514.2" x2="586.45" y2="514.2" stroke="#000" stroke-width="1"/>
<rect x="578.45" y="522.65" width="10.2" height="33.95" fill="#000000" stroke="#000" stroke-width="0.9"/>
<line x1="583.55" y1="556.6" x2="583.55" y2="559.9" stroke="#000" stroke-width="0.9"/>
<line x1="600.7" y1="527.8" x2="600.7" y2="522.8" stroke="#000" stroke-width="1.05"/>
<line x1="597.8" y1="522.8" x2="603.6" y2="522.8" stroke="#000" stroke-width="1"/>
<rect x="595.45" y="528.25" width="10.5" height="28.35" fill="#333333" stroke="#000" stroke-width="0.9"/>
<line x1="600.7" y1="556.6" x2="600.7" y2="559.9" stroke="#000" stroke-width="0.9"/>
<line x1="618" y1="516.2" x2="618" y2="509.5" stroke="#000" stroke-width="1.05"/>
<line x1="615.1" y1="509.5" x2="620.9" y2="509.5" stroke="#000" stroke-width="1"/>
<rect x="612.75" y="516.65" width="10.5" height="39.95" fill="#666666" stroke="#000" stroke-width="0.9"/>
<line x1="618" y1="556.6" x2="618" y2="559.9" stroke="#000" stroke-width="0.9"/>
<line x1="635" y1="507.3" x2="635" y2="504.4" stroke="#000" stroke-width="1.05"/>
<line x1="632.1" y1="504.4" x2="637.9" y2="504.4" stroke="#000" stroke-width="1"/>
<rect x="629.65" y="507.75" width="10.7" height="48.85" fill="#858585" stroke="#000" stroke-width="0.9"/>
<line x1="635" y1="556.6" x2="635" y2="559.9" stroke="#000" stroke-width="0.9"/>
<line x1="652" y1="501.5" x2="652" y2="494.3" stroke="#000" stroke-width="1.05"/>
<line x1="649.1" y1="494.3" x2="654.9" y2="494.3" stroke="#000" stroke-width="1"/>
<rect x="646.75" y="501.95" width="10.5" height="54.65" fill="#a6a6a6" stroke="#000" stroke-width="0.9"/>
<line x1="652" y1="556.6" x2="652" y2="559.9" stroke="#000" stroke-width="0.9"/>
<line x1="555" y1="478.05" x2="555" y2="557.05" stroke="#000" stroke-width="0.9"/>
<line x1="554.55" y1="556.6" x2="664.1" y2="556.6" stroke="#000" stroke-width="0.9"/>
<line x1="552" y1="478.5" x2="555" y2="478.5" stroke="#000" stroke-width="0.9"/>
<text x="551" y="480.59" font-size="5.8" font-weight="bold" text-anchor="end">1.0</text>
<line x1="552" y1="494.12" x2="555" y2="494.12" stroke="#000" stroke-width="0.9"/>
<text x="551" y="496.21" font-size="5.8" font-weight="bold" text-anchor="end">0.8</text>
<line x1="552" y1="509.74" x2="555" y2="509.74" stroke="#000" stroke-width="0.9"/>
<text x="551" y="511.83" font-size="5.8" font-weight="bold" text-anchor="end">0.6</text>
<line x1="552" y1="525.36" x2="555" y2="525.36" stroke="#000" stroke-width="0.9"/>
<text x="551" y="527.45" font-size="5.8" font-weight="bold" text-anchor="end">0.4</text>
<line x1="552" y1="540.98" x2="555" y2="540.98" stroke="#000" stroke-width="0.9"/>
<text x="551" y="543.07" font-size="5.8" font-weight="bold" text-anchor="end">0.2</text>
<line x1="552" y1="556.6" x2="555" y2="556.6" stroke="#000" stroke-width="0.9"/>
<text x="551" y="558.69" font-size="5.8" font-weight="bold" text-anchor="end">0.0</text>
<text transform="translate(539.22,517.55) rotate(-90)" font-size="6.05" font-weight="normal" text-anchor="middle" style="stroke-width:0.4px">PLIN1 /  β-actin</text>
<text x="583.6" y="511.73" font-size="5.8" font-weight="bold" text-anchor="middle">#</text>
<text x="652" y="494.42" font-size="6.2" font-weight="bold" text-anchor="middle">*</text>
<text x="566.3" y="565.6" font-size="5.5" font-weight="bold" text-anchor="middle">Control</text>
<text x="600.7" y="565.6" font-size="5.5" font-weight="bold" text-anchor="middle">Cur100</text>
<text x="635" y="565.6" font-size="5.5" font-weight="bold" text-anchor="middle">Cur50</text>
<text x="652" y="565.6" font-size="5.5" font-weight="bold" text-anchor="middle">Cur100</text>
<text x="665.3" y="564.8" font-size="5.3" font-weight="bold" text-anchor="start">(mg/kg)</text>
<line x1="593.2" y1="567.5" x2="624.9" y2="567.5" stroke="#000" stroke-width="0.8"/>
<text x="609.05" y="573.9" font-size="5.5" font-weight="bold" text-anchor="middle">Abx</text>
<line x1="576.9" y1="576.5" x2="661.9" y2="576.5" stroke="#8a8a8a" stroke-width="1.5"/>
<text x="617.8" y="582.2" font-size="5.5" font-weight="bold" text-anchor="middle">HFD</text>
</g>
<g>
<line x1="405.8" y1="685.4" x2="405.8" y2="681.3" stroke="#000" stroke-width="1.05"/>
<line x1="402.9" y1="681.3" x2="408.7" y2="681.3" stroke="#000" stroke-width="1"/>
<rect x="400.45" y="685.85" width="10.7" height="22.45" fill="#ffffff" stroke="#000" stroke-width="0.9"/>
<line x1="405.8" y1="708.3" x2="405.8" y2="711.6" stroke="#000" stroke-width="0.9"/>
<line x1="423" y1="655.6" x2="423" y2="646.3" stroke="#000" stroke-width="1.05"/>
<line x1="420.1" y1="646.3" x2="425.9" y2="646.3" stroke="#000" stroke-width="1"/>
<rect x="417.85" y="656.05" width="10.3" height="52.25" fill="#000000" stroke="#000" stroke-width="0.9"/>
<line x1="423" y1="708.3" x2="423" y2="711.6" stroke="#000" stroke-width="0.9"/>
<line x1="440.3" y1="666.4" x2="440.3" y2="661.6" stroke="#000" stroke-width="1.05"/>
<line x1="437.4" y1="661.6" x2="443.2" y2="661.6" stroke="#000" stroke-width="1"/>
<rect x="435.05" y="666.85" width="10.5" height="41.45" fill="#333333" stroke="#000" stroke-width="0.9"/>
<line x1="440.3" y1="708.3" x2="440.3" y2="711.6" stroke="#000" stroke-width="0.9"/>
<line x1="457.4" y1="661.4" x2="457.4" y2="655.4" stroke="#000" stroke-width="1.05"/>
<line x1="454.5" y1="655.4" x2="460.3" y2="655.4" stroke="#000" stroke-width="1"/>
<rect x="452.25" y="661.85" width="10.3" height="46.45" fill="#666666" stroke="#000" stroke-width="0.9"/>
<line x1="457.4" y1="708.3" x2="457.4" y2="711.6" stroke="#000" stroke-width="0.9"/>
<line x1="474.55" y1="668.1" x2="474.55" y2="662.5" stroke="#000" stroke-width="1.05"/>
<line x1="471.65" y1="662.5" x2="477.45" y2="662.5" stroke="#000" stroke-width="1"/>
<rect x="469.35" y="668.55" width="10.4" height="39.75" fill="#858585" stroke="#000" stroke-width="0.9"/>
<line x1="474.55" y1="708.3" x2="474.55" y2="711.6" stroke="#000" stroke-width="0.9"/>
<line x1="491.9" y1="676.2" x2="491.9" y2="674.4" stroke="#000" stroke-width="1.05"/>
<line x1="489" y1="674.4" x2="494.8" y2="674.4" stroke="#000" stroke-width="1"/>
<rect x="486.65" y="676.65" width="10.5" height="31.65" fill="#a6a6a6" stroke="#000" stroke-width="0.9"/>
<line x1="491.9" y1="708.3" x2="491.9" y2="711.6" stroke="#000" stroke-width="0.9"/>
<line x1="394.6" y1="629.45" x2="394.6" y2="708.75" stroke="#000" stroke-width="0.9"/>
<line x1="394.15" y1="708.3" x2="503.7" y2="708.3" stroke="#000" stroke-width="0.9"/>
<line x1="391.6" y1="629.9" x2="394.6" y2="629.9" stroke="#000" stroke-width="0.9"/>
<text x="390.1" y="632.02" font-size="5.9" font-weight="normal" text-anchor="end" style="stroke-width:0.4px">1.5</text>
<line x1="391.6" y1="656.03" x2="394.6" y2="656.03" stroke="#000" stroke-width="0.9"/>
<text x="390.1" y="658.16" font-size="5.9" font-weight="normal" text-anchor="end" style="stroke-width:0.4px">1.0</text>
<line x1="391.6" y1="682.17" x2="394.6" y2="682.17" stroke="#000" stroke-width="0.9"/>
<text x="390.1" y="684.29" font-size="5.9" font-weight="normal" text-anchor="end" style="stroke-width:0.4px">0.5</text>
<line x1="391.6" y1="708.3" x2="394.6" y2="708.3" stroke="#000" stroke-width="0.9"/>
<text x="390.1" y="710.42" font-size="5.9" font-weight="normal" text-anchor="end" style="stroke-width:0.4px">0.0</text>
<text transform="translate(378.59,669.1) rotate(-90)" font-size="5.95" font-weight="normal" text-anchor="middle" style="stroke-width:0.4px">GIPR /  β-actin</text>
<text x="423" y="644.33" font-size="5.8" font-weight="bold" text-anchor="middle">##</text>
<text x="491.9" y="674.72" font-size="6.2" font-weight="bold" text-anchor="middle">*</text>
<text x="405.8" y="717.5" font-size="5.5" font-weight="bold" text-anchor="middle">Control</text>
<text x="440.3" y="717.5" font-size="5.5" font-weight="bold" text-anchor="middle">Cur100</text>
<text x="474.55" y="717.5" font-size="5.5" font-weight="bold" text-anchor="middle">Cur50</text>
<text x="491.9" y="717.5" font-size="5.5" font-weight="bold" text-anchor="middle">Cur100</text>
<text x="504.3" y="717.1" font-size="5.5" font-weight="bold" text-anchor="start">(mg/kg)</text>
<line x1="432.4" y1="719.5" x2="464.7" y2="719.5" stroke="#000" stroke-width="0.8"/>
<text x="448.55" y="725.8" font-size="5.5" font-weight="bold" text-anchor="middle">Abx</text>
<line x1="416.5" y1="727.5" x2="500.9" y2="727.5" stroke="#000" stroke-width="0.8"/>
<text x="457.4" y="733.8" font-size="5.5" font-weight="bold" text-anchor="middle">HFD</text>
</g>
<text transform="translate(36.1,12.8) scale(1.08,1)" font-size="15.8" font-weight="bold" style="stroke-width:0.1px">A</text>
<text transform="translate(236.2,12.8) scale(1.08,1)" font-size="15.8" font-weight="bold" style="stroke-width:0.1px">B</text>
<text transform="translate(442.6,12.9) scale(1.08,1)" font-size="15.8" font-weight="bold" style="stroke-width:0.1px">C</text>
<text transform="translate(37,156.9) scale(1.08,1)" font-size="15.8" font-weight="bold" style="stroke-width:0.1px">D</text>
<text transform="translate(239.8,156.9) scale(1.08,1)" font-size="15.8" font-weight="bold" style="stroke-width:0.1px">E</text>
<text transform="translate(444.1,156.9) scale(1.08,1)" font-size="15.8" font-weight="bold" style="stroke-width:0.1px">F</text>
<text transform="translate(37.2,312.4) scale(1.08,1)" font-size="15.8" font-weight="bold" style="stroke-width:0.1px">G</text>
<text transform="translate(239.8,312.2) scale(1.08,1)" font-size="15.8" font-weight="bold" style="stroke-width:0.1px">H</text>
<text transform="translate(448.8,311) scale(1.08,1)" font-size="15.8" font-weight="bold" style="stroke-width:0.1px">I</text>
<text transform="translate(0.8,465.5) scale(1.08,1)" font-size="15.8" font-weight="bold" style="stroke-width:0.1px">J</text>
<text transform="translate(145.2,629) scale(1.08,1)" font-size="15.8" font-weight="bold" style="stroke-width:0.1px">K</text>
<text transform="translate(364.5,628.7) scale(1.08,1)" font-size="15.8" font-weight="bold" style="stroke-width:0.1px">L</text>
<defs>
<filter id="b1" x="-30%" y="-100%" width="160%" height="300%"><feGaussianBlur stdDeviation="0.95 0.7"/></filter>
<filter id="b2" x="-30%" y="-100%" width="160%" height="300%"><feGaussianBlur stdDeviation="1.2 0.9"/></filter>
<filter id="b15" x="-30%" y="-100%" width="160%" height="300%"><feGaussianBlur stdDeviation="1.0 0.8"/></filter>
<filter id="b3" x="-30%" y="-100%" width="160%" height="300%"><feGaussianBlur stdDeviation="2 1.6"/></filter>
<linearGradient id="gI1" x1="0" y1="0" x2="1" y2="0">
<stop offset="0" stop-color="#b8b8b8"/>
<stop offset="0.5" stop-color="#c2c2c2"/>
<stop offset="1" stop-color="#d0d0d0"/>
</linearGradient>
<linearGradient id="gI2" x1="0" y1="0" x2="1" y2="0">
<stop offset="0" stop-color="#d6d6d6"/>
<stop offset="0.15" stop-color="#e6e6e6"/>
<stop offset="0.5" stop-color="#ececec"/>
<stop offset="1" stop-color="#e0e0e0"/>
</linearGradient>
<linearGradient id="gI3" x1="0" y1="0" x2="1" y2="0">
<stop offset="0" stop-color="#8e8e8e"/>
<stop offset="0.5" stop-color="#9e9e9e"/>
<stop offset="1" stop-color="#aaaaaa"/>
</linearGradient>
<linearGradient id="gI4" x1="0" y1="0" x2="1" y2="0">
<stop offset="0" stop-color="#cccccc"/>
<stop offset="0.15" stop-color="#ededed"/>
<stop offset="0.6" stop-color="#eaeaea"/>
<stop offset="1" stop-color="#e2e2e2"/>
</linearGradient>
<linearGradient id="gI5" x1="0" y1="0" x2="1" y2="0">
<stop offset="0" stop-color="#969696"/>
<stop offset="0.5" stop-color="#9e9e9e"/>
<stop offset="1" stop-color="#a6a6a6"/>
</linearGradient>
<linearGradient id="gK1" x1="0" y1="0" x2="1" y2="0">
<stop offset="0" stop-color="#bababa"/>
<stop offset="0.5" stop-color="#cdcdcd"/>
<stop offset="1" stop-color="#c2c2c2"/>
</linearGradient>
<linearGradient id="gK2" x1="0" y1="0" x2="1" y2="0">
<stop offset="0" stop-color="#bcbcbc"/>
<stop offset="0.5" stop-color="#cccccc"/>
<stop offset="1" stop-color="#c4c4c4"/>
</linearGradient>
</defs>
<text x="474.8" y="316.4" font-size="6.1" font-weight="bold" text-anchor="middle">HFD</text>
<text x="509.6" y="315.8" font-size="5" font-weight="bold" text-anchor="middle">-</text>
<text x="534.2" y="315.96" font-size="5.6" font-weight="bold" text-anchor="middle">+</text>
<text x="559.1" y="315.96" font-size="5.6" font-weight="bold" text-anchor="middle">+</text>
<text x="581.6" y="315.96" font-size="5.6" font-weight="bold" text-anchor="middle">+</text>
<text x="604.1" y="315.96" font-size="5.6" font-weight="bold" text-anchor="middle">+</text>
<text x="628.3" y="315.96" font-size="5.6" font-weight="bold" text-anchor="middle">+</text>
<text x="474.8" y="328.7" font-size="6.1" font-weight="bold" text-anchor="middle">Abx</text>
<text x="509.6" y="327.8" font-size="5" font-weight="bold" text-anchor="middle">-</text>
<text x="534.2" y="327.8" font-size="5" font-weight="bold" text-anchor="middle">-</text>
<text x="559.1" y="327.96" font-size="5.6" font-weight="bold" text-anchor="middle">+</text>
<text x="581.6" y="327.96" font-size="5.6" font-weight="bold" text-anchor="middle">+</text>
<text x="604.1" y="327.8" font-size="5" font-weight="bold" text-anchor="middle">-</text>
<text x="628.3" y="327.8" font-size="5" font-weight="bold" text-anchor="middle">-</text>
<text x="474.8" y="340.8" font-size="6.1" font-weight="bold" text-anchor="middle">Cur(mg/kg)</text>
<text x="509.6" y="339.6" font-size="5" font-weight="bold" text-anchor="middle">-</text>
<text x="534.2" y="339.6" font-size="5" font-weight="bold" text-anchor="middle">-</text>
<text x="559.1" y="340.47" font-size="6.3" font-weight="bold" text-anchor="middle">100</text>
<text x="581.6" y="339.6" font-size="5" font-weight="bold" text-anchor="middle">-</text>
<text x="604.1" y="340.47" font-size="6.3" font-weight="bold" text-anchor="middle">50</text>
<text x="628.3" y="340.47" font-size="6.3" font-weight="bold" text-anchor="middle">100</text>
<clipPath id="cI1"><rect x="494.7" y="346.7" width="148" height="14.6"/></clipPath>
<rect x="494.7" y="346.7" width="148" height="14.6" fill="url(#gI1)"/>
<g clip-path="url(#cI1)">
<rect x="502.1" y="352.25" width="19.9" height="2.9" rx="4.38" ry="1.45" fill="#0c0c0c" opacity="1" filter="url(#b1)"/>
<rect x="523.7" y="351.8" width="23.2" height="4.6" rx="5.1" ry="2.3" fill="#000" opacity="1" filter="url(#b1)"/>
<rect x="548.1" y="352.4" width="21.6" height="3.4" rx="4.75" ry="1.7" fill="#050505" opacity="1" filter="url(#b1)"/>
<rect x="571.3" y="352.7" width="11.7" height="3" rx="3" ry="1.5" fill="#050505" opacity="1" filter="url(#b1)"/>
<rect x="578.7" y="352.6" width="14" height="4.6" rx="3.08" ry="2.3" fill="#000" opacity="1" filter="url(#b1)"/>
<rect x="593.3" y="353.35" width="21.5" height="3.3" rx="4.73" ry="1.65" fill="#050505" opacity="1" filter="url(#b1)"/>
<rect x="616.6" y="353.95" width="21" height="2.7" rx="4.62" ry="1.35" fill="#0c0c0c" opacity="1" filter="url(#b1)"/>
</g>
<rect x="495.1" y="347.1" width="147.2" height="13.8" fill="none" stroke="#3c3c3c" stroke-width="0.8"/>
<text x="475.9" y="356" font-size="6.1" font-weight="bold" text-anchor="middle">SREBP-1c</text>
<clipPath id="cI2"><rect x="494.7" y="363" width="148" height="14.6"/></clipPath>
<rect x="494.7" y="363" width="148" height="14.6" fill="url(#gI2)"/>
<g clip-path="url(#cI2)">
<rect x="523" y="365.6" width="22" height="8" rx="4.84" ry="4" fill="#707070" opacity="0.7" filter="url(#b3)"/>
<rect x="548" y="365.2" width="19" height="8" rx="4.18" ry="4" fill="#707070" opacity="0.6" filter="url(#b3)"/>
<rect x="571" y="364.8" width="21" height="8" rx="4.62" ry="4" fill="#707070" opacity="0.65" filter="url(#b3)"/>
<rect x="596" y="365.4" width="18" height="8" rx="3.96" ry="4" fill="#707070" opacity="0.55" filter="url(#b3)"/>
<rect x="620" y="365.8" width="17" height="8" rx="3.74" ry="4" fill="#707070" opacity="0.55" filter="url(#b3)"/>
<rect x="501.5" y="370.2" width="16.2" height="3" rx="3.56" ry="1.5" fill="#2a2a2a" opacity="1" filter="url(#b1)" transform="rotate(-5 509.6 371.7)"/>
<rect x="523.2" y="368.4" width="21.5" height="4.6" rx="4.73" ry="2.3" fill="#000" opacity="1" filter="url(#b1)"/>
<rect x="548.7" y="368.3" width="18.2" height="3.4" rx="4" ry="1.7" fill="#060606" opacity="1" filter="url(#b1)"/>
<rect x="571.6" y="367.1" width="20.5" height="4.6" rx="4.51" ry="2.3" fill="#000" opacity="1" filter="url(#b1)"/>
<rect x="596.3" y="368.35" width="17.4" height="3.3" rx="3.83" ry="1.65" fill="#080808" opacity="1" filter="url(#b1)"/>
<rect x="620.2" y="368.65" width="16.8" height="3.7" rx="3.7" ry="1.85" fill="#040404" opacity="1" filter="url(#b1)"/>
</g>
<rect x="495.2" y="363.5" width="147" height="13.6" fill="none" stroke="#0a0a0a" stroke-width="1"/>
<text x="475" y="372.4" font-size="6.1" font-weight="bold" text-anchor="middle">PPARγ</text>
<clipPath id="cI3"><rect x="494.7" y="379.8" width="148" height="14.6"/></clipPath>
<rect x="494.7" y="379.8" width="148" height="14.6" fill="url(#gI3)"/>
<g clip-path="url(#cI3)">
<rect x="499.9" y="385.5" width="13.8" height="3" rx="3.04" ry="1.5" fill="#7a7a7a" opacity="0.7" filter="url(#b2)"/>
<rect x="521.5" y="384.6" width="19.9" height="5.2" rx="4.38" ry="2.6" fill="#000" opacity="1" filter="url(#b2)"/>
<rect x="545.3" y="384.8" width="19.4" height="4.4" rx="4.27" ry="2.2" fill="#050505" opacity="1" filter="url(#b2)"/>
<rect x="570" y="384.35" width="18.8" height="3.7" rx="4.14" ry="1.85" fill="#141414" opacity="1" filter="url(#b2)"/>
<rect x="594.4" y="384.45" width="17.7" height="2.7" rx="3.89" ry="1.35" fill="#505050" opacity="0.9" filter="url(#b2)"/>
<rect x="618.8" y="384" width="16.6" height="3" rx="3.65" ry="1.5" fill="#444" opacity="0.9" filter="url(#b2)"/>
</g>
<rect x="495.1" y="380.2" width="147.2" height="13.8" fill="none" stroke="#333" stroke-width="0.8"/>
<text x="474.2" y="388.4" font-size="6.1" font-weight="bold" text-anchor="middle">CAV-1</text>
<clipPath id="cI4"><rect x="494.7" y="396.4" width="148" height="14.1"/></clipPath>
<rect x="494.7" y="396.4" width="148" height="14.1" fill="url(#gI4)"/>
<g clip-path="url(#cI4)">
<path d="M499.6,401.6 Q509.8,402.6 520,401.6 C517.55,407.28 502.05,407.28 499.6,401.6 Z" fill="#000" opacity="1" filter="url(#b1)"/>
<path d="M524,402.1 Q533.65,403.1 543.3,402.1 C535.98,405.82 521.32,405.82 524,402.1 Z" fill="#222" opacity="1" filter="url(#b1)"/>
<rect x="524.5" y="402.6" width="9.5" height="1.8" rx="3" ry="0.9" fill="#111" opacity="1" filter="url(#b1)"/>
<path d="M547.3,402.1 Q557.8,403.1 568.3,402.1 C570.78,406.24 554.82,406.24 547.3,402.1 Z" fill="#1a1a1a" opacity="1" filter="url(#b1)"/>
<rect x="557" y="402.8" width="10" height="2" rx="3" ry="1" fill="#0a0a0a" opacity="1" filter="url(#b1)"/>
<path d="M571.9,401.6 Q582.15,402.6 592.4,401.6 C589.94,407.56 574.36,407.56 571.9,401.6 Z" fill="#000" opacity="1" filter="url(#b1)"/>
<path d="M595.2,401.8 Q605.45,402.8 615.7,401.8 C613.24,407.76 597.66,407.76 595.2,401.8 Z" fill="#000" opacity="1" filter="url(#b1)"/>
<path d="M618.5,401.9 Q628.45,402.9 638.4,401.9 C636.01,407.72 620.89,407.72 618.5,401.9 Z" fill="#000" opacity="1" filter="url(#b1)"/>
</g>
<rect x="495.15" y="396.85" width="147.1" height="13.2" fill="none" stroke="#222" stroke-width="0.9"/>
<text x="474.6" y="405.6" font-size="6.1" font-weight="bold" text-anchor="middle">PLIN1</text>
<clipPath id="cI5"><rect x="494.7" y="412.3" width="148" height="14.2"/></clipPath>
<rect x="494.7" y="412.3" width="148" height="14.2" fill="url(#gI5)"/>
<g clip-path="url(#cI5)">
<rect x="502.1" y="417.15" width="18.8" height="5.3" rx="4.14" ry="2.65" fill="#000" opacity="1" filter="url(#b1)"/>
<rect x="524.8" y="416.75" width="19.4" height="5.5" rx="4.27" ry="2.75" fill="#000" opacity="1" filter="url(#b1)"/>
<rect x="548.1" y="417.05" width="19.4" height="5.3" rx="4.27" ry="2.65" fill="#000" opacity="1" filter="url(#b1)"/>
<rect x="570.5" y="417.05" width="19.4" height="5.3" rx="4.27" ry="2.65" fill="#000" opacity="1" filter="url(#b1)"/>
<rect x="593.3" y="416.75" width="19.9" height="5.5" rx="4.38" ry="2.75" fill="#000" opacity="1" filter="url(#b1)"/>
<rect x="616.6" y="417.3" width="19.3" height="4.8" rx="4.25" ry="2.4" fill="#000" opacity="1" filter="url(#b1)"/>
</g>
<rect x="495.15" y="412.75" width="147.1" height="13.3" fill="none" stroke="#222" stroke-width="0.9"/>
<text x="474.8" y="421.5" font-size="6.1" font-weight="bold" text-anchor="middle">β-actin</text>
<text x="163.6" y="647.27" font-size="6.3" font-weight="bold" text-anchor="middle">HFD</text>
<text x="198.4" y="646.6" font-size="5" font-weight="bold" text-anchor="middle">-</text>
<text x="222.6" y="646.76" font-size="5.6" font-weight="bold" text-anchor="middle">+</text>
<text x="247.2" y="646.76" font-size="5.6" font-weight="bold" text-anchor="middle">+</text>
<text x="269.3" y="646.76" font-size="5.6" font-weight="bold" text-anchor="middle">+</text>
<text x="291.8" y="646.76" font-size="5.6" font-weight="bold" text-anchor="middle">+</text>
<text x="316.1" y="646.76" font-size="5.6" font-weight="bold" text-anchor="middle">+</text>
<text x="163.6" y="659.57" font-size="6.3" font-weight="bold" text-anchor="middle">Abx</text>
<text x="198.4" y="658.6" font-size="5" font-weight="bold" text-anchor="middle">-</text>
<text x="222.6" y="658.6" font-size="5" font-weight="bold" text-anchor="middle">-</text>
<text x="247.2" y="658.76" font-size="5.6" font-weight="bold" text-anchor="middle">+</text>
<text x="269.3" y="658.76" font-size="5.6" font-weight="bold" text-anchor="middle">+</text>
<text x="291.8" y="658.6" font-size="5" font-weight="bold" text-anchor="middle">-</text>
<text x="316.1" y="658.6" font-size="5" font-weight="bold" text-anchor="middle">-</text>
<text x="163.6" y="672.17" font-size="6.3" font-weight="bold" text-anchor="middle">Cur(mg/kg)</text>
<text x="198.4" y="670.9" font-size="5" font-weight="bold" text-anchor="middle">-</text>
<text x="222.6" y="670.9" font-size="5" font-weight="bold" text-anchor="middle">-</text>
<text x="247.2" y="671.77" font-size="6.3" font-weight="bold" text-anchor="middle">100</text>
<text x="269.3" y="670.9" font-size="5" font-weight="bold" text-anchor="middle">-</text>
<text x="291.8" y="671.77" font-size="6.3" font-weight="bold" text-anchor="middle">50</text>
<text x="316.1" y="671.77" font-size="6.3" font-weight="bold" text-anchor="middle">100</text>
<clipPath id="cK1"><rect x="183" y="677.7" width="147" height="14.7"/></clipPath>
<rect x="183" y="677.7" width="147" height="14.7" fill="url(#gK1)"/>
<g clip-path="url(#cK1)">
<rect x="213" y="681.4" width="18" height="9" rx="3.96" ry="4.5" fill="#777" opacity="0.5" filter="url(#b3)"/>
<rect x="190.3" y="685.2" width="9.2" height="2.6" rx="3" ry="1.3" fill="#2c2c2c" opacity="1" filter="url(#b1)"/>
<rect x="199" y="684.9" width="9.1" height="2.6" rx="3" ry="1.3" fill="#333" opacity="1" filter="url(#b1)"/>
<rect x="189.7" y="685.5" width="19.1" height="1.8" rx="4.2" ry="0.9" fill="#555" opacity="1" filter="url(#b1)"/>
<rect x="212.8" y="682.7" width="18.3" height="6.4" rx="4.03" ry="3.2" fill="#000" opacity="1" filter="url(#b15)"/>
<rect x="235" y="684.1" width="13.3" height="4" rx="2.93" ry="2" fill="#161616" opacity="1" filter="url(#b15)"/>
<rect x="240" y="684.2" width="7.8" height="4.2" rx="3" ry="2.1" fill="#111" opacity="1" filter="url(#b15)"/>
<rect x="245.2" y="685.3" width="7.6" height="2.2" rx="1.67" ry="1.1" fill="#999" opacity="0.6" filter="url(#b2)"/>
<rect x="259.1" y="683" width="17.1" height="5" rx="3.76" ry="2.5" fill="#000" opacity="1" filter="url(#b15)"/>
<rect x="281.3" y="684" width="18.2" height="3.2" rx="4" ry="1.6" fill="#111" opacity="1" filter="url(#b15)"/>
<rect x="282.3" y="683.4" width="7.7" height="4.2" rx="3" ry="2.1" fill="#111" opacity="1" filter="url(#b15)"/>
<rect x="304" y="684.7" width="19.4" height="2.4" rx="4.27" ry="1.2" fill="#444" opacity="1" filter="url(#b15)"/>
<rect x="304.8" y="684.4" width="6.2" height="3" rx="3" ry="1.5" fill="#333" opacity="1" filter="url(#b15)"/>
<rect x="316" y="684.3" width="6.6" height="3.2" rx="3" ry="1.6" fill="#2a2a2a" opacity="1" filter="url(#b15)"/>
</g>
<rect x="183.45" y="678.15" width="146.1" height="13.8" fill="none" stroke="#222" stroke-width="0.9"/>
<text x="164.6" y="688" font-size="6.1" font-weight="bold" text-anchor="middle">GIPR</text>
<clipPath id="cK2"><rect x="183" y="695.2" width="147" height="14.4"/></clipPath>
<rect x="183" y="695.2" width="147" height="14.4" fill="url(#gK2)"/>
<g clip-path="url(#cK2)">
<rect x="189.5" y="699.7" width="19.9" height="5" rx="4.38" ry="2.5" fill="#000" opacity="1" filter="url(#b1)"/>
<rect x="213.4" y="700.4" width="18.8" height="4.6" rx="4.14" ry="2.3" fill="#000" opacity="1" filter="url(#b1)"/>
<rect x="235.6" y="700.4" width="19.9" height="4.6" rx="4.38" ry="2.3" fill="#000" opacity="1" filter="url(#b1)"/>
<rect x="259.1" y="700.3" width="18.2" height="4.8" rx="4" ry="2.4" fill="#000" opacity="1" filter="url(#b1)"/>
<rect x="281.8" y="700.6" width="18.3" height="4.2" rx="4.03" ry="2.1" fill="#000" opacity="1" filter="url(#b1)"/>
<rect x="304" y="700.1" width="19.9" height="4.6" rx="4.38" ry="2.3" fill="#000" opacity="1" filter="url(#b1)"/>
</g>
<rect x="183.45" y="695.65" width="146.1" height="13.5" fill="none" stroke="#222" stroke-width="0.9"/>
<text x="164" y="702" font-size="6.1" font-weight="bold" text-anchor="middle">β-actin</text>
</svg>
</body>
</html>
